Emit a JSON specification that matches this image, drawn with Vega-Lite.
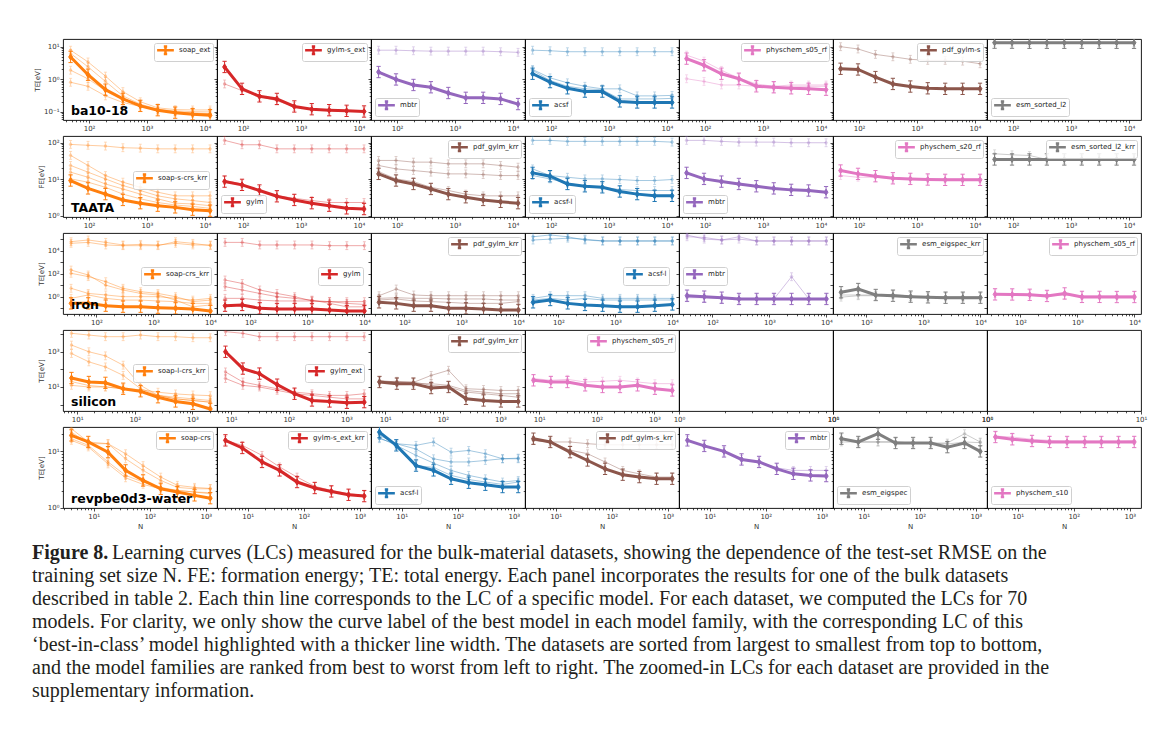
{
"$schema":"https://vega.github.io/schema/vega-lite/v6.json",
"background":"white",
"padding":{"left":32,"top":38,"right":0,"bottom":0},
"datasets":{
"p11":[{"m":"soap_ext","N":48,"v":4.85},{"m":"soap_ext","N":96,"v":1.38},{"m":"soap_ext","N":192,"v":0.48},{"m":"soap_ext","N":384,"v":0.25},{"m":"soap_ext","N":768,"v":0.153},{"m":"soap_ext","N":1536,"v":0.113},{"m":"soap_ext","N":3072,"v":0.095},{"m":"soap_ext","N":6144,"v":0.085},{"m":"soap_ext","N":12288,"v":0.079}],
"p11t":[{"m":"a","N":48,"v":7.8},{"m":"a","N":96,"v":3.4},{"m":"a","N":192,"v":1.25},{"m":"a","N":384,"v":0.42},{"m":"a","N":768,"v":0.205},{"m":"a","N":1536,"v":0.133},{"m":"a","N":3072,"v":0.118},{"m":"a","N":6144,"v":0.115},{"m":"a","N":12288,"v":0.115},
{"m":"b","N":48,"v":6.2},{"m":"b","N":96,"v":2.4},{"m":"b","N":192,"v":0.86},{"m":"b","N":384,"v":0.31},{"m":"b","N":768,"v":0.173},{"m":"b","N":1536,"v":0.121},{"m":"b","N":3072,"v":0.107},{"m":"b","N":6144,"v":0.102},{"m":"b","N":12288,"v":0.1},
{"m":"c","N":48,"v":1.9},{"m":"c","N":96,"v":1.03},{"m":"c","N":192,"v":0.45},{"m":"c","N":384,"v":0.26},{"m":"c","N":768,"v":0.161},{"m":"c","N":1536,"v":0.115},{"m":"c","N":3072,"v":0.1},{"m":"c","N":6144,"v":0.093},{"m":"c","N":12288,"v":0.089},
{"m":"d","N":48,"v":0.81},{"m":"d","N":96,"v":0.61},{"m":"d","N":192,"v":0.31},{"m":"d","N":384,"v":0.195},{"m":"d","N":768,"v":0.147},{"m":"d","N":1536,"v":0.113},{"m":"d","N":3072,"v":0.1},{"m":"d","N":6144,"v":0.091},{"m":"d","N":12288,"v":0.087}],
"p12":[{"m":"gylm-s_ext","N":48,"v":2.39},{"m":"gylm-s_ext","N":96,"v":0.51},{"m":"gylm-s_ext","N":192,"v":0.3},{"m":"gylm-s_ext","N":384,"v":0.25},{"m":"gylm-s_ext","N":768,"v":0.147},{"m":"gylm-s_ext","N":1536,"v":0.121},{"m":"gylm-s_ext","N":3072,"v":0.113},{"m":"gylm-s_ext","N":6144,"v":0.108},{"m":"gylm-s_ext","N":12288,"v":0.103}],
"p12t":[{"m":"a","N":48,"v":0.72},{"m":"a","N":96,"v":0.45},{"m":"a","N":192,"v":0.3},{"m":"a","N":384,"v":0.22},{"m":"a","N":768,"v":0.147},{"m":"a","N":1536,"v":0.121},{"m":"a","N":3072,"v":0.113},{"m":"a","N":6144,"v":0.11},{"m":"a","N":12288,"v":0.105}],
"p13":[{"m":"mbtr","N":48,"v":1.67},{"m":"mbtr","N":96,"v":0.99},{"m":"mbtr","N":192,"v":0.67},{"m":"mbtr","N":384,"v":0.57},{"m":"mbtr","N":768,"v":0.38},{"m":"mbtr","N":1536,"v":0.27},{"m":"mbtr","N":3072,"v":0.27},{"m":"mbtr","N":6144,"v":0.25},{"m":"mbtr","N":12288,"v":0.174}],
"p13t":[{"m":"a","N":48,"v":7.8},{"m":"a","N":96,"v":7.8},{"m":"a","N":192,"v":7.5},{"m":"a","N":384,"v":7.3},{"m":"a","N":768,"v":7.3},{"m":"a","N":1536,"v":7.3},{"m":"a","N":3072,"v":7.3},{"m":"a","N":6144,"v":7.0},{"m":"a","N":12288,"v":6.7}],
"p14":[{"m":"acsf","N":48,"v":1.48},{"m":"acsf","N":96,"v":0.82},{"m":"acsf","N":192,"v":0.53},{"m":"acsf","N":384,"v":0.42},{"m":"acsf","N":768,"v":0.42},{"m":"acsf","N":1536,"v":0.21},{"m":"acsf","N":3072,"v":0.195},{"m":"acsf","N":6144,"v":0.195},{"m":"acsf","N":12288,"v":0.195}],
"p14t":[{"m":"a","N":48,"v":7.8},{"m":"a","N":96,"v":7.5},{"m":"a","N":192,"v":7.0},{"m":"a","N":384,"v":7.0},{"m":"a","N":768,"v":7.0},{"m":"a","N":1536,"v":7.0},{"m":"a","N":3072,"v":7.0},{"m":"a","N":6144,"v":7.0},{"m":"a","N":12288,"v":7.0},
{"m":"b","N":48,"v":2.0},{"m":"b","N":96,"v":1.11},{"m":"b","N":192,"v":0.78},{"m":"b","N":384,"v":0.61},{"m":"b","N":768,"v":0.51},{"m":"b","N":1536,"v":0.51},{"m":"b","N":3072,"v":0.31},{"m":"b","N":6144,"v":0.31},{"m":"b","N":12288,"v":0.32},
{"m":"c","N":48,"v":1.88},{"m":"c","N":96,"v":0.92},{"m":"c","N":192,"v":0.61},{"m":"c","N":384,"v":0.51},{"m":"c","N":768,"v":0.48},{"m":"c","N":1536,"v":0.25},{"m":"c","N":3072,"v":0.25},{"m":"c","N":6144,"v":0.25},{"m":"c","N":12288,"v":0.26}],
"p15":[{"m":"physchem_s05_rf","N":48,"v":4.3},{"m":"physchem_s05_rf","N":96,"v":2.7},{"m":"physchem_s05_rf","N":192,"v":1.48},{"m":"physchem_s05_rf","N":384,"v":1.04},{"m":"physchem_s05_rf","N":768,"v":0.61},{"m":"physchem_s05_rf","N":1536,"v":0.57},{"m":"physchem_s05_rf","N":3072,"v":0.53},{"m":"physchem_s05_rf","N":6144,"v":0.51},{"m":"physchem_s05_rf","N":12288,"v":0.48}],
"p15t":[{"m":"a","N":48,"v":1.04},{"m":"a","N":96,"v":0.86},{"m":"a","N":192,"v":0.67},{"m":"a","N":384,"v":0.67},{"m":"a","N":768,"v":0.61},{"m":"a","N":1536,"v":0.53},{"m":"a","N":3072,"v":0.61},{"m":"a","N":6144,"v":0.61},{"m":"a","N":12288,"v":0.61},
{"m":"b","N":48,"v":5.5},{"m":"b","N":96,"v":3.6},{"m":"b","N":192,"v":1.88},{"m":"b","N":384,"v":1.09},{"m":"b","N":768,"v":0.72},{"m":"b","N":1536,"v":0.61},{"m":"b","N":3072,"v":0.67},{"m":"b","N":6144,"v":0.67},{"m":"b","N":12288,"v":0.67}],
"p16":[{"m":"pdf_gylm-s","N":48,"v":2.1},{"m":"pdf_gylm-s","N":96,"v":2.0},{"m":"pdf_gylm-s","N":192,"v":1.17},{"m":"pdf_gylm-s","N":384,"v":0.72},{"m":"pdf_gylm-s","N":768,"v":0.6},{"m":"pdf_gylm-s","N":1536,"v":0.53},{"m":"pdf_gylm-s","N":3072,"v":0.51},{"m":"pdf_gylm-s","N":6144,"v":0.51},{"m":"pdf_gylm-s","N":12288,"v":0.51}],
"p16t":[{"m":"a","N":48,"v":10},{"m":"a","N":96,"v":8.5},{"m":"a","N":192,"v":5.8},{"m":"a","N":384,"v":4.9},{"m":"a","N":768,"v":4.1},{"m":"a","N":1536,"v":3.8},{"m":"a","N":3072,"v":3.8},{"m":"a","N":6144,"v":3.6},{"m":"a","N":12288,"v":3.0}],
"p17":[{"m":"esm_sorted_l2","N":48,"v":13.3},{"m":"esm_sorted_l2","N":96,"v":13.3},{"m":"esm_sorted_l2","N":192,"v":13.2},{"m":"esm_sorted_l2","N":384,"v":13.2},{"m":"esm_sorted_l2","N":768,"v":13.2},{"m":"esm_sorted_l2","N":1536,"v":13.2},{"m":"esm_sorted_l2","N":3072,"v":13.2},{"m":"esm_sorted_l2","N":6144,"v":13.2},{"m":"esm_sorted_l2","N":12288,"v":13.2}],
"p17t":[{"m":"a","N":48,"v":13.7},{"m":"a","N":96,"v":13.5},{"m":"a","N":192,"v":13.4},{"m":"a","N":384,"v":13.3},{"m":"a","N":768,"v":13.3},{"m":"a","N":1536,"v":13.3},{"m":"a","N":3072,"v":13.3},{"m":"a","N":6144,"v":13.3},{"m":"a","N":12288,"v":13.3}],
"p21":[{"m":"soap-s-crs_krr","N":48,"v":9.2},{"m":"soap-s-crs_krr","N":96,"v":5.6},{"m":"soap-s-crs_krr","N":192,"v":3.9},{"m":"soap-s-crs_krr","N":384,"v":2.7},{"m":"soap-s-crs_krr","N":768,"v":2.2},{"m":"soap-s-crs_krr","N":1536,"v":1.88},{"m":"soap-s-crs_krr","N":3072,"v":1.69},{"m":"soap-s-crs_krr","N":6144,"v":1.46},{"m":"soap-s-crs_krr","N":12288,"v":1.37}],
"p21t":[{"m":"a","N":48,"v":90},{"m":"a","N":96,"v":85},{"m":"a","N":192,"v":81},{"m":"a","N":384,"v":73},{"m":"a","N":768,"v":71},{"m":"a","N":1536,"v":68},{"m":"a","N":3072,"v":68},{"m":"a","N":6144,"v":68},{"m":"a","N":12288,"v":68},
{"m":"b","N":48,"v":45},{"m":"b","N":96,"v":23.8},{"m":"b","N":192,"v":12.6},{"m":"b","N":384,"v":8.3},{"m":"b","N":768,"v":6.0},{"m":"b","N":1536,"v":4.4},{"m":"b","N":3072,"v":3.5},{"m":"b","N":6144,"v":3.5},{"m":"b","N":12288,"v":3.5},
{"m":"c","N":48,"v":23.8},{"m":"c","N":96,"v":15.6},{"m":"c","N":192,"v":10.2},{"m":"c","N":384,"v":6.7},{"m":"c","N":768,"v":4.9},{"m":"c","N":1536,"v":3.5},{"m":"c","N":3072,"v":2.9},{"m":"c","N":6144,"v":2.6},{"m":"c","N":12288,"v":2.3},
{"m":"d","N":48,"v":15.6},{"m":"d","N":96,"v":11.3},{"m":"d","N":192,"v":7.4},{"m":"d","N":384,"v":5.4},{"m":"d","N":768,"v":3.9},{"m":"d","N":1536,"v":2.9},{"m":"d","N":3072,"v":2.2},{"m":"d","N":6144,"v":2.1},{"m":"d","N":12288,"v":1.88},
{"m":"e","N":48,"v":10.2},{"m":"e","N":96,"v":8.3},{"m":"e","N":192,"v":6.0},{"m":"e","N":384,"v":3.9},{"m":"e","N":768,"v":2.9},{"m":"e","N":1536,"v":2.3},{"m":"e","N":3072,"v":1.96},{"m":"e","N":6144,"v":1.8},{"m":"e","N":12288,"v":1.59}],
"p22":[{"m":"gylm","N":48,"v":8.6},{"m":"gylm","N":96,"v":7.0},{"m":"gylm","N":192,"v":4.9},{"m":"gylm","N":384,"v":3.4},{"m":"gylm","N":768,"v":2.7},{"m":"gylm","N":1536,"v":2.2},{"m":"gylm","N":3072,"v":1.88},{"m":"gylm","N":6144,"v":1.59},{"m":"gylm","N":12288,"v":1.52}],
"p22t":[{"m":"a","N":48,"v":116},{"m":"a","N":96,"v":88},{"m":"a","N":192,"v":88},{"m":"a","N":384,"v":68},{"m":"a","N":768,"v":68},{"m":"a","N":1536,"v":68},{"m":"a","N":3072,"v":68},{"m":"a","N":6144,"v":68},{"m":"a","N":12288,"v":68},
{"m":"b","N":48,"v":9.2},{"m":"b","N":96,"v":7.4},{"m":"b","N":192,"v":4.9},{"m":"b","N":384,"v":3.5},{"m":"b","N":768,"v":3.0},{"m":"b","N":1536,"v":2.6},{"m":"b","N":3072,"v":2.3},{"m":"b","N":6144,"v":2.3},{"m":"b","N":12288,"v":2.3}],
"p23":[{"m":"pdf_gylm_krr","N":48,"v":14},{"m":"pdf_gylm_krr","N":96,"v":9.2},{"m":"pdf_gylm_krr","N":192,"v":7.4},{"m":"pdf_gylm_krr","N":384,"v":5.4},{"m":"pdf_gylm_krr","N":768,"v":3.9},{"m":"pdf_gylm_krr","N":1536,"v":3.2},{"m":"pdf_gylm_krr","N":3072,"v":2.7},{"m":"pdf_gylm_krr","N":6144,"v":2.4},{"m":"pdf_gylm_krr","N":12288,"v":2.2}],
"p23t":[{"m":"a","N":48,"v":32.7},{"m":"a","N":96,"v":32.7},{"m":"a","N":192,"v":29.4},{"m":"a","N":384,"v":29.4},{"m":"a","N":768,"v":26.4},{"m":"a","N":1536,"v":26.4},{"m":"a","N":3072,"v":26.4},{"m":"a","N":6144,"v":23.8},{"m":"a","N":12288,"v":21.4},
{"m":"b","N":48,"v":23.8},{"m":"b","N":96,"v":19.2},{"m":"b","N":192,"v":17.3},{"m":"b","N":384,"v":15.6},{"m":"b","N":768,"v":14},{"m":"b","N":1536,"v":14},{"m":"b","N":3072,"v":13.4},{"m":"b","N":6144,"v":12.6},{"m":"b","N":12288,"v":12.6},
{"m":"c","N":48,"v":16.2},{"m":"c","N":96,"v":10.2},{"m":"c","N":192,"v":8.6},{"m":"c","N":384,"v":6.0},{"m":"c","N":768,"v":4.9},{"m":"c","N":1536,"v":3.9},{"m":"c","N":3072,"v":3.5},{"m":"c","N":6144,"v":3.5},{"m":"c","N":12288,"v":3.5}],
"p24":[{"m":"acsf-l","N":48,"v":14.9},{"m":"acsf-l","N":96,"v":12.1},{"m":"acsf-l","N":192,"v":7.4},{"m":"acsf-l","N":384,"v":6.4},{"m":"acsf-l","N":768,"v":6.0},{"m":"acsf-l","N":1536,"v":4.6},{"m":"acsf-l","N":3072,"v":3.9},{"m":"acsf-l","N":6144,"v":3.5},{"m":"acsf-l","N":12288,"v":3.5}],
"p24t":[{"m":"a","N":48,"v":116},{"m":"a","N":96,"v":116},{"m":"a","N":192,"v":109},{"m":"a","N":384,"v":109},{"m":"a","N":768,"v":109},{"m":"a","N":1536,"v":109},{"m":"a","N":3072,"v":109},{"m":"a","N":6144,"v":109},{"m":"a","N":12288,"v":104},
{"m":"b","N":48,"v":19.2},{"m":"b","N":96,"v":12.6},{"m":"b","N":192,"v":11.3},{"m":"b","N":384,"v":10.2},{"m":"b","N":768,"v":10.2},{"m":"b","N":1536,"v":9.8},{"m":"b","N":3072,"v":9.2},{"m":"b","N":6144,"v":9.2},{"m":"b","N":12288,"v":9.8},
{"m":"c","N":48,"v":12.6},{"m":"c","N":96,"v":10.2},{"m":"c","N":192,"v":7.8},{"m":"c","N":384,"v":6.4},{"m":"c","N":768,"v":6.0},{"m":"c","N":1536,"v":5.2},{"m":"c","N":3072,"v":4.9},{"m":"c","N":6144,"v":4.9},{"m":"c","N":12288,"v":4.9}],
"p25":[{"m":"mbtr","N":48,"v":14.9},{"m":"mbtr","N":96,"v":10.2},{"m":"mbtr","N":192,"v":8.6},{"m":"mbtr","N":384,"v":7.4},{"m":"mbtr","N":768,"v":6.4},{"m":"mbtr","N":1536,"v":5.6},{"m":"mbtr","N":3072,"v":5.1},{"m":"mbtr","N":6144,"v":4.9},{"m":"mbtr","N":12288,"v":4.4}],
"p25t":[{"m":"a","N":48,"v":116},{"m":"a","N":96,"v":116},{"m":"a","N":192,"v":109},{"m":"a","N":384,"v":104},{"m":"a","N":768,"v":104},{"m":"a","N":1536,"v":104},{"m":"a","N":3072,"v":100},{"m":"a","N":6144,"v":100},{"m":"a","N":12288,"v":100}],
"p26":[{"m":"physchem_s20_rf","N":48,"v":17.3},{"m":"physchem_s20_rf","N":96,"v":14},{"m":"physchem_s20_rf","N":192,"v":12.1},{"m":"physchem_s20_rf","N":384,"v":10.6},{"m":"physchem_s20_rf","N":768,"v":10.2},{"m":"physchem_s20_rf","N":1536,"v":9.8},{"m":"physchem_s20_rf","N":3072,"v":9.6},{"m":"physchem_s20_rf","N":6144,"v":9.6},{"m":"physchem_s20_rf","N":12288,"v":9.6}],
"p26t":[{"m":"a","N":48,"v":12.6},{"m":"a","N":96,"v":11.3},{"m":"a","N":192,"v":11.3},{"m":"a","N":384,"v":10.6},{"m":"a","N":768,"v":10.2},{"m":"a","N":1536,"v":10.2},{"m":"a","N":3072,"v":10.2},{"m":"a","N":6144,"v":10.2},{"m":"a","N":12288,"v":10.2}],
"p27":[{"m":"esm_sorted_l2_krr","N":48,"v":34.8},{"m":"esm_sorted_l2_krr","N":96,"v":34.8},{"m":"esm_sorted_l2_krr","N":192,"v":34.8},{"m":"esm_sorted_l2_krr","N":384,"v":34.8},{"m":"esm_sorted_l2_krr","N":768,"v":34.8},{"m":"esm_sorted_l2_krr","N":1536,"v":34.8},{"m":"esm_sorted_l2_krr","N":3072,"v":34.8},{"m":"esm_sorted_l2_krr","N":6144,"v":34.8},{"m":"esm_sorted_l2_krr","N":12288,"v":34.8}],
"p27t":[{"m":"a","N":48,"v":49.8},{"m":"a","N":96,"v":46.7},{"m":"a","N":192,"v":44.7},{"m":"a","N":384,"v":34.8},{"m":"a","N":768,"v":34.8},{"m":"a","N":1536,"v":34.8},{"m":"a","N":3072,"v":34.8},{"m":"a","N":6144,"v":34.8},{"m":"a","N":12288,"v":34.8}],
"p31":[{"m":"soap-crs_krr","N":36,"v":0.26},{"m":"soap-crs_krr","N":72,"v":0.26},{"m":"soap-crs_krr","N":146,"v":0.164},{"m":"soap-crs_krr","N":293,"v":0.134},{"m":"soap-crs_krr","N":598,"v":0.134},{"m":"soap-crs_krr","N":1204,"v":0.11},{"m":"soap-crs_krr","N":2450,"v":0.096},{"m":"soap-crs_krr","N":4920,"v":0.084},{"m":"soap-crs_krr","N":10000,"v":0.056}],
"p31t":[{"m":"a","N":36,"v":60000},{"m":"a","N":72,"v":84000},{"m":"a","N":146,"v":52000},{"m":"a","N":293,"v":31000},{"m":"a","N":598,"v":35000},{"m":"a","N":1204,"v":31000},{"m":"a","N":2450,"v":43000},{"m":"a","N":4920,"v":31000},{"m":"a","N":10000,"v":31000},
{"m":"b","N":36,"v":43000},{"m":"b","N":72,"v":52000},{"m":"b","N":146,"v":31000},{"m":"b","N":293,"v":27000},{"m":"b","N":598,"v":27000},{"m":"b","N":1204,"v":27000},{"m":"b","N":2450,"v":60000},{"m":"b","N":4920,"v":43000},{"m":"b","N":10000,"v":27000},
{"m":"c","N":36,"v":205},{"m":"c","N":72,"v":76},{"m":"c","N":146,"v":10},{"m":"c","N":293,"v":3.8},{"m":"c","N":598,"v":1.9},{"m":"c","N":1204,"v":1.4},{"m":"c","N":2450,"v":0.5},{"m":"c","N":4920,"v":0.13},{"m":"c","N":10000,"v":0.19},
{"m":"d","N":36,"v":107},{"m":"d","N":72,"v":55},{"m":"d","N":146,"v":20},{"m":"d","N":293,"v":5.3},{"m":"d","N":598,"v":2.7},{"m":"d","N":1204,"v":1.9},{"m":"d","N":2450,"v":1.0},{"m":"d","N":4920,"v":0.37},{"m":"d","N":10000,"v":0.5},
{"m":"e","N":36,"v":5.3},{"m":"e","N":72,"v":1.9},{"m":"e","N":146,"v":1.4},{"m":"e","N":293,"v":1.0},{"m":"e","N":598,"v":1.0},{"m":"e","N":1204,"v":1.0},{"m":"e","N":2450,"v":0.71},{"m":"e","N":4920,"v":0.5},{"m":"e","N":10000,"v":0.71},
{"m":"f","N":36,"v":0.71},{"m":"f","N":72,"v":1.4},{"m":"f","N":146,"v":0.71},{"m":"f","N":293,"v":0.5},{"m":"f","N":598,"v":0.5},{"m":"f","N":1204,"v":0.42},{"m":"f","N":2450,"v":0.37},{"m":"f","N":4920,"v":0.26},{"m":"f","N":10000,"v":0.26}],
"p32":[{"m":"gylm","N":36,"v":0.164},{"m":"gylm","N":72,"v":0.19},{"m":"gylm","N":146,"v":0.096},{"m":"gylm","N":293,"v":0.084},{"m":"gylm","N":598,"v":0.084},{"m":"gylm","N":1204,"v":0.084},{"m":"gylm","N":2450,"v":0.069},{"m":"gylm","N":4920,"v":0.056},{"m":"gylm","N":10000,"v":0.056}],
"p32t":[{"m":"a","N":36,"v":52000},{"m":"a","N":72,"v":52000},{"m":"a","N":146,"v":31000},{"m":"a","N":293,"v":31000},{"m":"a","N":598,"v":31000},{"m":"a","N":1204,"v":31000},{"m":"a","N":2450,"v":27000},{"m":"a","N":4920,"v":27000},{"m":"a","N":10000,"v":27000},
{"m":"b","N":36,"v":28},{"m":"b","N":72,"v":14},{"m":"b","N":146,"v":3.8},{"m":"b","N":293,"v":1.9},{"m":"b","N":598,"v":1.0},{"m":"b","N":1204,"v":0.42},{"m":"b","N":2450,"v":0.37},{"m":"b","N":4920,"v":0.26},{"m":"b","N":10000,"v":0.21},
{"m":"c","N":36,"v":7.4},{"m":"c","N":72,"v":3.8},{"m":"c","N":146,"v":1.9},{"m":"c","N":293,"v":1.0},{"m":"c","N":598,"v":0.71},{"m":"c","N":1204,"v":0.5},{"m":"c","N":2450,"v":0.26},{"m":"c","N":4920,"v":0.13},{"m":"c","N":10000,"v":0.13},
{"m":"d","N":36,"v":0.71},{"m":"d","N":72,"v":0.71},{"m":"d","N":146,"v":0.5},{"m":"d","N":293,"v":0.42},{"m":"d","N":598,"v":0.42},{"m":"d","N":1204,"v":0.42},{"m":"d","N":2450,"v":0.37},{"m":"d","N":4920,"v":0.37},{"m":"d","N":10000,"v":0.37}],
"p33":[{"m":"pdf_gylm_krr","N":36,"v":0.32},{"m":"pdf_gylm_krr","N":72,"v":0.26},{"m":"pdf_gylm_krr","N":146,"v":0.164},{"m":"pdf_gylm_krr","N":293,"v":0.164},{"m":"pdf_gylm_krr","N":598,"v":0.096},{"m":"pdf_gylm_krr","N":1204,"v":0.096},{"m":"pdf_gylm_krr","N":2450,"v":0.084},{"m":"pdf_gylm_krr","N":4920,"v":0.069},{"m":"pdf_gylm_krr","N":10000,"v":0.069}],
"p33t":[{"m":"a","N":36,"v":1.21},{"m":"a","N":72,"v":4.6},{"m":"a","N":146,"v":1.39},{"m":"a","N":293,"v":1.21},{"m":"a","N":598,"v":1.21},{"m":"a","N":1204,"v":1.21},{"m":"a","N":2450,"v":1.21},{"m":"a","N":4920,"v":1.21},{"m":"a","N":10000,"v":1.21},
{"m":"b","N":36,"v":0.71},{"m":"b","N":72,"v":0.81},{"m":"b","N":146,"v":0.71},{"m":"b","N":293,"v":0.71},{"m":"b","N":598,"v":0.63},{"m":"b","N":1204,"v":0.63},{"m":"b","N":2450,"v":0.63},{"m":"b","N":4920,"v":0.51},{"m":"b","N":10000,"v":0.51},
{"m":"c","N":36,"v":0.51},{"m":"c","N":72,"v":0.63},{"m":"c","N":146,"v":0.42},{"m":"c","N":293,"v":0.37},{"m":"c","N":598,"v":0.32},{"m":"c","N":1204,"v":0.26},{"m":"c","N":2450,"v":0.26},{"m":"c","N":4920,"v":0.26},{"m":"c","N":10000,"v":0.37}],
"p34":[{"m":"acsf-l","N":36,"v":0.32},{"m":"acsf-l","N":72,"v":0.51},{"m":"acsf-l","N":146,"v":0.26},{"m":"acsf-l","N":293,"v":0.19},{"m":"acsf-l","N":598,"v":0.164},{"m":"acsf-l","N":1204,"v":0.134},{"m":"acsf-l","N":2450,"v":0.134},{"m":"acsf-l","N":4920,"v":0.164},{"m":"acsf-l","N":10000,"v":0.21}],
"p34t":[{"m":"a","N":36,"v":160000},{"m":"a","N":72,"v":230000},{"m":"a","N":146,"v":160000},{"m":"a","N":293,"v":83000},{"m":"a","N":598,"v":69000},{"m":"a","N":1204,"v":69000},{"m":"a","N":2450,"v":69000},{"m":"a","N":4920,"v":69000},{"m":"a","N":10000,"v":69000},
{"m":"b","N":36,"v":83000},{"m":"b","N":72,"v":100000},{"m":"b","N":146,"v":120000},{"m":"b","N":293,"v":100000},{"m":"b","N":598,"v":69000},{"m":"b","N":1204,"v":69000},{"m":"b","N":2450,"v":69000},{"m":"b","N":4920,"v":69000},{"m":"b","N":10000,"v":69000},
{"m":"c","N":36,"v":0.71},{"m":"c","N":72,"v":1.21},{"m":"c","N":146,"v":1.21},{"m":"c","N":293,"v":1.21},{"m":"c","N":598,"v":0.71},{"m":"c","N":1204,"v":0.71},{"m":"c","N":2450,"v":0.71},{"m":"c","N":4920,"v":0.71},{"m":"c","N":10000,"v":0.71},
{"m":"d","N":36,"v":0.51},{"m":"d","N":72,"v":0.71},{"m":"d","N":146,"v":0.51},{"m":"d","N":293,"v":0.71},{"m":"d","N":598,"v":0.51},{"m":"d","N":1204,"v":0.51},{"m":"d","N":2450,"v":0.51},{"m":"d","N":4920,"v":0.51},{"m":"d","N":10000,"v":0.51}],
"p35":[{"m":"mbtr","N":36,"v":1.21},{"m":"mbtr","N":72,"v":1.0},{"m":"mbtr","N":146,"v":0.81},{"m":"mbtr","N":293,"v":0.63},{"m":"mbtr","N":598,"v":0.63},{"m":"mbtr","N":1204,"v":0.63},{"m":"mbtr","N":2450,"v":0.63},{"m":"mbtr","N":4920,"v":0.63},{"m":"mbtr","N":10000,"v":0.63}],
"p35t":[{"m":"a","N":36,"v":230000},{"m":"a","N":72,"v":100000},{"m":"a","N":146,"v":83000},{"m":"a","N":293,"v":100000},{"m":"a","N":598,"v":69000},{"m":"a","N":1204,"v":69000},{"m":"a","N":2450,"v":69000},{"m":"a","N":4920,"v":69000},{"m":"a","N":10000,"v":69000},
{"m":"b","N":36,"v":160000},{"m":"b","N":72,"v":140000},{"m":"b","N":146,"v":83000},{"m":"b","N":293,"v":160000},{"m":"b","N":598,"v":69000},{"m":"b","N":1204,"v":69000},{"m":"b","N":2450,"v":69000},{"m":"b","N":4920,"v":69000},{"m":"b","N":10000,"v":69000},
{"m":"c","N":36,"v":0.81},{"m":"c","N":72,"v":0.81},{"m":"c","N":146,"v":0.71},{"m":"c","N":293,"v":0.63},{"m":"c","N":598,"v":0.63},{"m":"c","N":1204,"v":0.63},{"m":"c","N":2450,"v":54},{"m":"c","N":4920,"v":0.63},{"m":"c","N":10000,"v":0.63}],
"p36":[{"m":"esm_eigspec_krr","N":36,"v":2.4},{"m":"esm_eigspec_krr","N":72,"v":4.6},{"m":"esm_eigspec_krr","N":146,"v":1.39},{"m":"esm_eigspec_krr","N":293,"v":1.21},{"m":"esm_eigspec_krr","N":598,"v":1.0},{"m":"esm_eigspec_krr","N":1204,"v":0.87},{"m":"esm_eigspec_krr","N":2450,"v":0.81},{"m":"esm_eigspec_krr","N":4920,"v":0.81},{"m":"esm_eigspec_krr","N":10000,"v":0.81}],
"p36t":[{"m":"a","N":36,"v":1.39},{"m":"a","N":72,"v":1.39},{"m":"a","N":146,"v":1.39},{"m":"a","N":293,"v":1.39},{"m":"a","N":598,"v":1.0},{"m":"a","N":1204,"v":1.0},{"m":"a","N":2450,"v":1.0},{"m":"a","N":4920,"v":1.0},{"m":"a","N":10000,"v":1.0},
{"m":"b","N":36,"v":0.9},{"m":"b","N":72,"v":1.2},{"m":"b","N":146,"v":1.2},{"m":"b","N":293,"v":1.6},{"m":"b","N":598,"v":1.1},{"m":"b","N":1204,"v":0.9},{"m":"b","N":2450,"v":0.9},{"m":"b","N":4920,"v":0.9},{"m":"b","N":10000,"v":0.9}],
"p37":[{"m":"physchem_s05_rf","N":36,"v":1.58},{"m":"physchem_s05_rf","N":72,"v":1.55},{"m":"physchem_s05_rf","N":146,"v":1.45},{"m":"physchem_s05_rf","N":293,"v":1.15},{"m":"physchem_s05_rf","N":598,"v":1.9},{"m":"physchem_s05_rf","N":1204,"v":0.95},{"m":"physchem_s05_rf","N":2450,"v":0.95},{"m":"physchem_s05_rf","N":4920,"v":0.93},{"m":"physchem_s05_rf","N":10000,"v":0.93}],
"p37t":[{"m":"a","N":36,"v":1.8},{"m":"a","N":72,"v":1.7},{"m":"a","N":146,"v":1.6},{"m":"a","N":293,"v":1.4},{"m":"a","N":598,"v":1.3},{"m":"a","N":1204,"v":1.2},{"m":"a","N":2450,"v":1.2},{"m":"a","N":4920,"v":1.2},{"m":"a","N":10000,"v":1.2}],
"p41":[{"m":"soap-l-crs_krr","N":8,"v":32},{"m":"soap-l-crs_krr","N":16,"v":19},{"m":"soap-l-crs_krr","N":31,"v":17},{"m":"soap-l-crs_krr","N":63,"v":7.9},{"m":"soap-l-crs_krr","N":126,"v":5.7},{"m":"soap-l-crs_krr","N":253,"v":2.6},{"m":"soap-l-crs_krr","N":510,"v":1.5},{"m":"soap-l-crs_krr","N":1020,"v":1.1},{"m":"soap-l-crs_krr","N":2040,"v":0.56}],
"p41t":[{"m":"a","N":8,"v":11000},{"m":"a","N":16,"v":8800},{"m":"a","N":31,"v":7100},{"m":"a","N":63,"v":7100},{"m":"a","N":126,"v":8800},{"m":"a","N":253,"v":7100},{"m":"a","N":510,"v":7100},{"m":"a","N":1020,"v":6200},{"m":"a","N":2040,"v":6200},
{"m":"b","N":8,"v":2370},{"m":"b","N":16,"v":990},{"m":"b","N":31,"v":580},{"m":"b","N":63,"v":171},{"m":"b","N":126,"v":12.3},{"m":"b","N":253,"v":3.3},{"m":"b","N":510,"v":2.1},{"m":"b","N":1020,"v":1.7},{"m":"b","N":2040,"v":1.36},
{"m":"c","N":8,"v":790},{"m":"c","N":16,"v":265},{"m":"c","N":31,"v":137},{"m":"c","N":63,"v":45},{"m":"c","N":126,"v":7.9},{"m":"c","N":253,"v":3.3},{"m":"c","N":510,"v":2.1},{"m":"c","N":1020,"v":1.7},{"m":"c","N":2040,"v":1.36},
{"m":"d","N":8,"v":12.3},{"m":"d","N":16,"v":9.9},{"m":"d","N":31,"v":9.9},{"m":"d","N":63,"v":7.9},{"m":"d","N":126,"v":5.6},{"m":"d","N":253,"v":3.3},{"m":"d","N":510,"v":2.6},{"m":"d","N":1020,"v":2.1},{"m":"d","N":2040,"v":1.7},
{"m":"e","N":8,"v":20},{"m":"e","N":16,"v":12},{"m":"e","N":31,"v":10},{"m":"e","N":63,"v":8},{"m":"e","N":126,"v":7},{"m":"e","N":253,"v":5},{"m":"e","N":510,"v":4},{"m":"e","N":1020,"v":3.5},{"m":"e","N":2040,"v":3.2}],
"p42":[{"m":"gylm_ext","N":8,"v":990},{"m":"gylm_ext","N":16,"v":110},{"m":"gylm_ext","N":31,"v":57},{"m":"gylm_ext","N":63,"v":13.4},{"m":"gylm_ext","N":126,"v":4.1},{"m":"gylm_ext","N":253,"v":1.7},{"m":"gylm_ext","N":510,"v":1.5},{"m":"gylm_ext","N":1020,"v":1.26},{"m":"gylm_ext","N":2040,"v":1.37}],
"p42t":[{"m":"a","N":8,"v":13700},{"m":"a","N":16,"v":11000},{"m":"a","N":31,"v":7100},{"m":"a","N":63,"v":7100},{"m":"a","N":126,"v":7100},{"m":"a","N":253,"v":7100},{"m":"a","N":510,"v":7100},{"m":"a","N":1020,"v":7100},{"m":"a","N":2040,"v":7100},
{"m":"b","N":8,"v":71},{"m":"b","N":16,"v":19},{"m":"b","N":31,"v":12.3},{"m":"b","N":63,"v":7.9},{"m":"b","N":126,"v":5.1},{"m":"b","N":253,"v":4.1},{"m":"b","N":510,"v":3.3},{"m":"b","N":1020,"v":3.3},{"m":"b","N":2040,"v":4.1},
{"m":"c","N":8,"v":30},{"m":"c","N":16,"v":12.3},{"m":"c","N":31,"v":9.9},{"m":"c","N":63,"v":6.4},{"m":"c","N":126,"v":4.1},{"m":"c","N":253,"v":3.3},{"m":"c","N":510,"v":2.6},{"m":"c","N":1020,"v":2.1},{"m":"c","N":2040,"v":2.1}],
"p43":[{"m":"pdf_gylm_krr","N":8,"v":19},{"m":"pdf_gylm_krr","N":16,"v":15.3},{"m":"pdf_gylm_krr","N":31,"v":15.3},{"m":"pdf_gylm_krr","N":63,"v":8.6},{"m":"pdf_gylm_krr","N":126,"v":9.9},{"m":"pdf_gylm_krr","N":253,"v":2.1},{"m":"pdf_gylm_krr","N":510,"v":1.7},{"m":"pdf_gylm_krr","N":1020,"v":1.5},{"m":"pdf_gylm_krr","N":2040,"v":1.5}],
"p43t":[{"m":"a","N":8,"v":19},{"m":"a","N":16,"v":21},{"m":"a","N":31,"v":18},{"m":"a","N":63,"v":45},{"m":"a","N":126,"v":88},{"m":"a","N":253,"v":7.9},{"m":"a","N":510,"v":7.2},{"m":"a","N":1020,"v":6.3},{"m":"a","N":2040,"v":6.3},
{"m":"b","N":8,"v":21},{"m":"b","N":16,"v":19},{"m":"b","N":31,"v":15.3},{"m":"b","N":63,"v":15.3},{"m":"b","N":126,"v":12.3},{"m":"b","N":253,"v":6.3},{"m":"b","N":510,"v":5.1},{"m":"b","N":1020,"v":4.1},{"m":"b","N":2040,"v":4.1},
{"m":"c","N":8,"v":23},{"m":"c","N":16,"v":19},{"m":"c","N":31,"v":19},{"m":"c","N":63,"v":12.3},{"m":"c","N":126,"v":9.9},{"m":"c","N":253,"v":5.1},{"m":"c","N":510,"v":4.1},{"m":"c","N":1020,"v":3.3},{"m":"c","N":2040,"v":2.6}],
"p44":[{"m":"physchem_s05_rf","N":8,"v":23.7},{"m":"physchem_s05_rf","N":16,"v":19},{"m":"physchem_s05_rf","N":31,"v":19},{"m":"physchem_s05_rf","N":63,"v":12.3},{"m":"physchem_s05_rf","N":126,"v":9.9},{"m":"physchem_s05_rf","N":253,"v":9.9},{"m":"physchem_s05_rf","N":510,"v":12.3},{"m":"physchem_s05_rf","N":1020,"v":7.9},{"m":"physchem_s05_rf","N":2040,"v":6.3}],
"p44t":[{"m":"a","N":8,"v":30},{"m":"a","N":16,"v":23.7},{"m":"a","N":31,"v":27},{"m":"a","N":63,"v":19},{"m":"a","N":126,"v":21},{"m":"a","N":253,"v":23.7},{"m":"a","N":510,"v":19},{"m":"a","N":1020,"v":15.3},{"m":"a","N":2040,"v":15.3}],
"p51":[{"m":"soap-crs","N":4,"v":19.2},{"m":"soap-crs","N":8,"v":14.7},{"m":"soap-crs","N":18,"v":9.7},{"m":"soap-crs","N":37,"v":4.6},{"m":"soap-crs","N":76,"v":3.05},{"m":"soap-crs","N":157,"v":2.17},{"m":"soap-crs","N":311,"v":1.9},{"m":"soap-crs","N":630,"v":1.66},{"m":"soap-crs","N":1200,"v":1.48}],
"p51t":[{"m":"a","N":4,"v":22},{"m":"a","N":8,"v":13.7},{"m":"a","N":18,"v":13.7},{"m":"a","N":37,"v":7.4},{"m":"a","N":76,"v":4.6},{"m":"a","N":157,"v":3.05},{"m":"a","N":311,"v":2.3},{"m":"a","N":630,"v":2.17},{"m":"a","N":1200,"v":2.17},
{"m":"b","N":4,"v":16.8},{"m":"b","N":8,"v":12.8},{"m":"b","N":18,"v":6.5},{"m":"b","N":37,"v":3.75},{"m":"b","N":76,"v":2.86},{"m":"b","N":157,"v":2.3},{"m":"b","N":311,"v":2.03},{"m":"b","N":630,"v":1.9},{"m":"b","N":1200,"v":1.77},
{"m":"c","N":4,"v":25.3},{"m":"c","N":8,"v":14.7},{"m":"c","N":18,"v":13.7},{"m":"c","N":37,"v":9.1},{"m":"c","N":76,"v":5.6},{"m":"c","N":157,"v":3.5},{"m":"c","N":311,"v":2.5},{"m":"c","N":630,"v":2.3},{"m":"c","N":1200,"v":2.2},
{"m":"d","N":4,"v":15.7},{"m":"d","N":8,"v":12},{"m":"d","N":18,"v":6},{"m":"d","N":37,"v":3.4},{"m":"d","N":76,"v":2.6},{"m":"d","N":157,"v":2.17},{"m":"d","N":311,"v":2.03},{"m":"d","N":630,"v":1.9},{"m":"d","N":1200,"v":1.85}],
"p52":[{"m":"gylm-s_ext_krr","N":4,"v":15.7},{"m":"gylm-s_ext_krr","N":8,"v":11.5},{"m":"gylm-s_ext_krr","N":18,"v":6.5},{"m":"gylm-s_ext_krr","N":37,"v":4.6},{"m":"gylm-s_ext_krr","N":76,"v":2.86},{"m":"gylm-s_ext_krr","N":157,"v":2.24},{"m":"gylm-s_ext_krr","N":311,"v":1.95},{"m":"gylm-s_ext_krr","N":630,"v":1.7},{"m":"gylm-s_ext_krr","N":1200,"v":1.61}],
"p52t":[{"m":"a","N":4,"v":15.7},{"m":"a","N":8,"v":12.8},{"m":"a","N":18,"v":8.5},{"m":"a","N":37,"v":5.3},{"m":"a","N":76,"v":3.5},{"m":"a","N":157,"v":2.4},{"m":"a","N":311,"v":2.03},{"m":"a","N":630,"v":1.77},{"m":"a","N":1200,"v":1.66}],
"p53":[{"m":"acsf-l","N":4,"v":22},{"m":"acsf-l","N":8,"v":12.8},{"m":"acsf-l","N":18,"v":5.6},{"m":"acsf-l","N":37,"v":4.6},{"m":"acsf-l","N":76,"v":3.27},{"m":"acsf-l","N":157,"v":2.78},{"m":"acsf-l","N":311,"v":2.56},{"m":"acsf-l","N":630,"v":2.33},{"m":"acsf-l","N":1200,"v":2.33}],
"p53t":[{"m":"a","N":4,"v":19.2},{"m":"a","N":8,"v":13.7},{"m":"a","N":18,"v":12.8},{"m":"a","N":37,"v":14.7},{"m":"a","N":76,"v":9.7},{"m":"a","N":157,"v":10.4},{"m":"a","N":311,"v":9.1},{"m":"a","N":630,"v":7.4},{"m":"a","N":1200,"v":7.6},
{"m":"b","N":4,"v":16.8},{"m":"b","N":8,"v":13.7},{"m":"b","N":18,"v":11},{"m":"b","N":37,"v":7.4},{"m":"b","N":76,"v":6.5},{"m":"b","N":157,"v":6.5},{"m":"b","N":311,"v":6.9},{"m":"b","N":630,"v":7.4},{"m":"b","N":1200,"v":7.4},
{"m":"c","N":4,"v":20.6},{"m":"c","N":8,"v":12.8},{"m":"c","N":18,"v":8.5},{"m":"c","N":37,"v":6.2},{"m":"c","N":76,"v":4.6},{"m":"c","N":157,"v":3.75},{"m":"c","N":311,"v":3.27},{"m":"c","N":630,"v":2.86},{"m":"c","N":1200,"v":3.05},
{"m":"d","N":4,"v":17.5},{"m":"d","N":8,"v":12.8},{"m":"d","N":18,"v":5.6},{"m":"d","N":37,"v":5.2},{"m":"d","N":76,"v":3.75},{"m":"d","N":157,"v":3.17},{"m":"d","N":311,"v":2.86},{"m":"d","N":630,"v":2.6},{"m":"d","N":1200,"v":2.86}],
"p54":[{"m":"pdf_gylm-s_krr","N":4,"v":16.8},{"m":"pdf_gylm-s_krr","N":8,"v":14.7},{"m":"pdf_gylm-s_krr","N":18,"v":9.7},{"m":"pdf_gylm-s_krr","N":37,"v":6.9},{"m":"pdf_gylm-s_krr","N":76,"v":4.9},{"m":"pdf_gylm-s_krr","N":157,"v":3.86},{"m":"pdf_gylm-s_krr","N":311,"v":3.5},{"m":"pdf_gylm-s_krr","N":630,"v":3.27},{"m":"pdf_gylm-s_krr","N":1200,"v":3.27}],
"p54t":[{"m":"a","N":4,"v":15.7},{"m":"a","N":8,"v":14.7},{"m":"a","N":18,"v":14.7},{"m":"a","N":37,"v":13.7},{"m":"a","N":76,"v":13.1},{"m":"a","N":157,"v":13.1},{"m":"a","N":311,"v":13.1},{"m":"a","N":630,"v":13.1},{"m":"a","N":1200,"v":13.1},
{"m":"b","N":4,"v":15.7},{"m":"b","N":8,"v":14.7},{"m":"b","N":18,"v":10.5},{"m":"b","N":37,"v":9.1},{"m":"b","N":76,"v":6.5},{"m":"b","N":157,"v":4.6},{"m":"b","N":311,"v":4.0},{"m":"b","N":630,"v":3.5},{"m":"b","N":1200,"v":3.5}],
"p55":[{"m":"mbtr","N":4,"v":15.7},{"m":"mbtr","N":8,"v":12.5},{"m":"mbtr","N":18,"v":10},{"m":"mbtr","N":37,"v":7.2},{"m":"mbtr","N":76,"v":6.5},{"m":"mbtr","N":157,"v":4.9},{"m":"mbtr","N":311,"v":4.0},{"m":"mbtr","N":630,"v":3.75},{"m":"mbtr","N":1200,"v":3.65}],
"p55t":[{"m":"a","N":4,"v":15.7},{"m":"a","N":8,"v":12.5},{"m":"a","N":18,"v":10},{"m":"a","N":37,"v":7.2},{"m":"a","N":76,"v":6.5},{"m":"a","N":157,"v":5.1},{"m":"a","N":311,"v":4.6},{"m":"a","N":630,"v":4.6},{"m":"a","N":1200,"v":4.6}],
"p56":[{"m":"esm_eigspec","N":4,"v":16.8},{"m":"esm_eigspec","N":8,"v":14.7},{"m":"esm_eigspec","N":18,"v":20.6},{"m":"esm_eigspec","N":37,"v":14.1},{"m":"esm_eigspec","N":76,"v":14.1},{"m":"esm_eigspec","N":157,"v":14.1},{"m":"esm_eigspec","N":311,"v":11.9},{"m":"esm_eigspec","N":630,"v":14.1},{"m":"esm_eigspec","N":1200,"v":10}],
"p56t":[{"m":"a","N":4,"v":14.7},{"m":"a","N":8,"v":14.7},{"m":"a","N":18,"v":14.7},{"m":"a","N":37,"v":14.7},{"m":"a","N":76,"v":14.1},{"m":"a","N":157,"v":14.1},{"m":"a","N":311,"v":13.5},{"m":"a","N":630,"v":14.7},{"m":"a","N":1200,"v":14.3},
{"m":"b","N":4,"v":16.8},{"m":"b","N":8,"v":14.7},{"m":"b","N":18,"v":14.7},{"m":"b","N":37,"v":14.7},{"m":"b","N":76,"v":14.1},{"m":"b","N":157,"v":14.1},{"m":"b","N":311,"v":14.1},{"m":"b","N":630,"v":20.6},{"m":"b","N":1200,"v":14.7}],
"p57":[{"m":"physchem_s10","N":4,"v":18},{"m":"physchem_s10","N":8,"v":16.4},{"m":"physchem_s10","N":18,"v":15.3},{"m":"physchem_s10","N":37,"v":14.7},{"m":"physchem_s10","N":76,"v":14.7},{"m":"physchem_s10","N":157,"v":14.7},{"m":"physchem_s10","N":311,"v":14.7},{"m":"physchem_s10","N":630,"v":14.7},{"m":"physchem_s10","N":1200,"v":14.7}],
"p57t":[{"m":"a","N":4,"v":18.7},{"m":"a","N":8,"v":18},{"m":"a","N":18,"v":16.4},{"m":"a","N":37,"v":15.7},{"m":"a","N":76,"v":15.3},{"m":"a","N":157,"v":15.3},{"m":"a","N":311,"v":15.3},{"m":"a","N":630,"v":15.3},{"m":"a","N":1200,"v":15.7}]
},
"title":{"text":"Figure 8.","subtitle":["\u200B\u2003\u2003\u2003\u2003Learning curves (LCs) measured for the bulk-material datasets, showing the dependence of the test-set RMSE on the","training set size N. FE: formation energy; TE: total energy. Each panel incorporates the results for one of the bulk datasets","described in table 2. Each thin line corresponds to the LC of a specific model. For each dataset, we computed the LCs for 70","models. For clarity, we only show the curve label of the best model in each model family, with the corresponding LC of this","\u2018best-in-class\u2019 model highlighted with a thicker line width. The datasets are sorted from largest to smallest from top to bottom,","and the model families are ranked from best to worst from left to right. The zoomed-in LCs for each dataset are provided in the","supplementary information."],"orient":"bottom","anchor":"start","frame":"group","dx":-31,"offset":14,"font":"Liberation Serif","fontSize":20,"fontWeight":"bold","color":"#231f20","subtitleFont":"Liberation Serif","subtitleFontSize":20,"subtitleColor":"#231f20","subtitleLineHeight":23,"subtitlePadding":-20},
"columns":7,
"spacing":{"row":16,"column":0},
"bounds":"flush",
"resolve":{"scale":{"color":"independent","x":"independent","y":"independent"},"legend":{"color":"independent"}},
"concat":[
{"width":154,"height":81,
"layer":[
{"data":{"name":"p11t"},"mark":{"type":"line","color":"#ff7f0e","strokeWidth":1,"opacity":0.4,"clip":true,"point":{"shape":"M0,-1.6L0,1.6M-0.6,-1.6L0.6,-1.6M-0.6,1.6L0.6,1.6M0,-0.85L0.55,0L0,0.85L-0.55,0Z","size":24,"filled":true,"color":"#ff7f0e","stroke":"#ff7f0e","strokeWidth":0.7,"opacity":0.4}},"encoding":{"x":{"field":"N","type":"quantitative","scale":{"type":"log","domain":[35.5,16200],"nice":false},"axis":{"title":null,"values":[40,50,60,70,80,90,100,200,300,400,500,600,700,800,900,1000,2000,3000,4000,5000,6000,7000,8000,9000,10000],"labelExpr":"abs(log(datum.value)/LN10-round(log(datum.value)/LN10))<0.01?'10'+(datum.value<0.5?'⁻':'')+['⁰','¹','²','³','⁴','⁵','⁶'][abs(round(log(datum.value)/LN10))]:''","tickSize":{"condition":{"test":"abs(log(datum.value)/LN10-round(log(datum.value)/LN10))<0.01","value":3},"value":1.8}}},"y":{"field":"v","type":"quantitative","scale":{"type":"log","domain":[0.0565,17.2],"nice":false},"axis":{"title":"TE[eV]","values":[0.06,0.07,0.08,0.09,0.1,0.2,0.3,0.4,0.5,0.6,0.7,0.8,0.9,1,2,3,4,5,6,7,8,9,10],"labelExpr":"abs(log(datum.value)/LN10-round(log(datum.value)/LN10))<0.01?'10'+(datum.value<0.5?'⁻':'')+['⁰','¹','²','³','⁴','⁵','⁶'][abs(round(log(datum.value)/LN10))]:''","tickSize":{"condition":{"test":"abs(log(datum.value)/LN10-round(log(datum.value)/LN10))<0.01","value":3},"value":1.8}}},"detail":{"field":"m"}}},
{"data":{"name":"p11"},"mark":{"type":"line","strokeWidth":3,"clip":true,"point":{"shape":"M0,-1.6L0,1.6M-0.6,-1.6L0.6,-1.6M-0.6,1.6L0.6,1.6M0,-0.85L0.55,0L0,0.85L-0.55,0Z","size":50,"filled":true,"stroke":"#ff7f0e","strokeWidth":1}},"encoding":{"x":{"field":"N","type":"quantitative"},"y":{"field":"v","type":"quantitative"},"color":{"field":"m","type":"nominal","scale":{"range":["#ff7f0e"]},"legend":{"title":null,"orient":"top-right","symbolType":"M-1,0L3,0M1,-0.9L1,0.9M0.6,-0.9L1.4,-0.9M0.6,0.9L1.4,0.9"}}}},
{"data":{"values":[{"t":"ba10-18"}]},"mark":{"type":"text","font":"DejaVu Sans","fontWeight":"bold","fontSize":12.5,"align":"left","baseline":"alphabetic","color":"#000"},"encoding":{"x":{"datum":48.7},"y":{"datum":0.0804},"text":{"field":"t"}}}
]},
{"width":154,"height":81,"encoding":{"x":{"field":"N","type":"quantitative","scale":{"type":"log","domain":[35.5,16200],"nice":false},"axis":{"title":null,"values":[40,50,60,70,80,90,100,200,300,400,500,600,700,800,900,1000,2000,3000,4000,5000,6000,7000,8000,9000,10000],"labelExpr":"abs(log(datum.value)/LN10-round(log(datum.value)/LN10))<0.01?'10'+(datum.value<0.5?'⁻':'')+['⁰','¹','²','³','⁴','⁵','⁶'][abs(round(log(datum.value)/LN10))]:''","tickSize":{"condition":{"test":"abs(log(datum.value)/LN10-round(log(datum.value)/LN10))<0.01","value":3},"value":1.8}}},"y":{"field":"v","type":"quantitative","scale":{"type":"log","domain":[0.0565,17.2],"nice":false},"axis":{"title":null,"labels":false,"values":[0.06,0.07,0.08,0.09,0.1,0.2,0.3,0.4,0.5,0.6,0.7,0.8,0.9,1,2,3,4,5,6,7,8,9,10],"tickSize":{"condition":{"test":"abs(log(datum.value)/LN10-round(log(datum.value)/LN10))<0.01","value":3},"value":1.8}}}},
"layer":[
{"data":{"name":"p12t"},"mark":{"type":"line","color":"#d62728","strokeWidth":1,"opacity":0.4,"clip":true,"point":{"shape":"M0,-1.6L0,1.6M-0.6,-1.6L0.6,-1.6M-0.6,1.6L0.6,1.6M0,-0.85L0.55,0L0,0.85L-0.55,0Z","size":24,"filled":true,"color":"#d62728","stroke":"#d62728","strokeWidth":0.7,"opacity":0.4}},"encoding":{"detail":{"field":"m"}}},
{"data":{"name":"p12"},"mark":{"type":"line","strokeWidth":3,"clip":true,"point":{"shape":"M0,-1.6L0,1.6M-0.6,-1.6L0.6,-1.6M-0.6,1.6L0.6,1.6M0,-0.85L0.55,0L0,0.85L-0.55,0Z","size":50,"filled":true,"stroke":"#d62728","strokeWidth":1}},"encoding":{"color":{"field":"m","type":"nominal","scale":{"range":["#d62728"]},"legend":{"title":null,"orient":"top-right","symbolType":"M-1,0L3,0M1,-0.9L1,0.9M0.6,-0.9L1.4,-0.9M0.6,0.9L1.4,0.9"}}}}
]},
{"width":154,"height":81,"encoding":{"x":{"field":"N","type":"quantitative","scale":{"type":"log","domain":[35.5,16200],"nice":false},"axis":{"title":null,"values":[40,50,60,70,80,90,100,200,300,400,500,600,700,800,900,1000,2000,3000,4000,5000,6000,7000,8000,9000,10000],"labelExpr":"abs(log(datum.value)/LN10-round(log(datum.value)/LN10))<0.01?'10'+(datum.value<0.5?'⁻':'')+['⁰','¹','²','³','⁴','⁵','⁶'][abs(round(log(datum.value)/LN10))]:''","tickSize":{"condition":{"test":"abs(log(datum.value)/LN10-round(log(datum.value)/LN10))<0.01","value":3},"value":1.8}}},"y":{"field":"v","type":"quantitative","scale":{"type":"log","domain":[0.0565,17.2],"nice":false},"axis":{"title":null,"labels":false,"values":[0.06,0.07,0.08,0.09,0.1,0.2,0.3,0.4,0.5,0.6,0.7,0.8,0.9,1,2,3,4,5,6,7,8,9,10],"tickSize":{"condition":{"test":"abs(log(datum.value)/LN10-round(log(datum.value)/LN10))<0.01","value":3},"value":1.8}}}},
"layer":[
{"data":{"name":"p13t"},"mark":{"type":"line","color":"#9467bd","strokeWidth":1,"opacity":0.4,"clip":true,"point":{"shape":"M0,-1.6L0,1.6M-0.6,-1.6L0.6,-1.6M-0.6,1.6L0.6,1.6M0,-0.85L0.55,0L0,0.85L-0.55,0Z","size":24,"filled":true,"color":"#9467bd","stroke":"#9467bd","strokeWidth":0.7,"opacity":0.4}},"encoding":{"detail":{"field":"m"}}},
{"data":{"name":"p13"},"mark":{"type":"line","strokeWidth":3,"clip":true,"point":{"shape":"M0,-1.6L0,1.6M-0.6,-1.6L0.6,-1.6M-0.6,1.6L0.6,1.6M0,-0.85L0.55,0L0,0.85L-0.55,0Z","size":50,"filled":true,"stroke":"#9467bd","strokeWidth":1}},"encoding":{"color":{"field":"m","type":"nominal","scale":{"range":["#9467bd"]},"legend":{"title":null,"orient":"bottom-left","symbolType":"M-1,0L3,0M1,-0.9L1,0.9M0.6,-0.9L1.4,-0.9M0.6,0.9L1.4,0.9"}}}}
]},
{"width":154,"height":81,"encoding":{"x":{"field":"N","type":"quantitative","scale":{"type":"log","domain":[35.5,16200],"nice":false},"axis":{"title":null,"values":[40,50,60,70,80,90,100,200,300,400,500,600,700,800,900,1000,2000,3000,4000,5000,6000,7000,8000,9000,10000],"labelExpr":"abs(log(datum.value)/LN10-round(log(datum.value)/LN10))<0.01?'10'+(datum.value<0.5?'⁻':'')+['⁰','¹','²','³','⁴','⁵','⁶'][abs(round(log(datum.value)/LN10))]:''","tickSize":{"condition":{"test":"abs(log(datum.value)/LN10-round(log(datum.value)/LN10))<0.01","value":3},"value":1.8}}},"y":{"field":"v","type":"quantitative","scale":{"type":"log","domain":[0.0565,17.2],"nice":false},"axis":{"title":null,"labels":false,"values":[0.06,0.07,0.08,0.09,0.1,0.2,0.3,0.4,0.5,0.6,0.7,0.8,0.9,1,2,3,4,5,6,7,8,9,10],"tickSize":{"condition":{"test":"abs(log(datum.value)/LN10-round(log(datum.value)/LN10))<0.01","value":3},"value":1.8}}}},
"layer":[
{"data":{"name":"p14t"},"mark":{"type":"line","color":"#1f77b4","strokeWidth":1,"opacity":0.4,"clip":true,"point":{"shape":"M0,-1.6L0,1.6M-0.6,-1.6L0.6,-1.6M-0.6,1.6L0.6,1.6M0,-0.85L0.55,0L0,0.85L-0.55,0Z","size":24,"filled":true,"color":"#1f77b4","stroke":"#1f77b4","strokeWidth":0.7,"opacity":0.4}},"encoding":{"detail":{"field":"m"}}},
{"data":{"name":"p14"},"mark":{"type":"line","strokeWidth":3,"clip":true,"point":{"shape":"M0,-1.6L0,1.6M-0.6,-1.6L0.6,-1.6M-0.6,1.6L0.6,1.6M0,-0.85L0.55,0L0,0.85L-0.55,0Z","size":50,"filled":true,"stroke":"#1f77b4","strokeWidth":1}},"encoding":{"color":{"field":"m","type":"nominal","scale":{"range":["#1f77b4"]},"legend":{"title":null,"orient":"bottom-left","symbolType":"M-1,0L3,0M1,-0.9L1,0.9M0.6,-0.9L1.4,-0.9M0.6,0.9L1.4,0.9"}}}}
]},
{"width":154,"height":81,"encoding":{"x":{"field":"N","type":"quantitative","scale":{"type":"log","domain":[35.5,16200],"nice":false},"axis":{"title":null,"values":[40,50,60,70,80,90,100,200,300,400,500,600,700,800,900,1000,2000,3000,4000,5000,6000,7000,8000,9000,10000],"labelExpr":"abs(log(datum.value)/LN10-round(log(datum.value)/LN10))<0.01?'10'+(datum.value<0.5?'⁻':'')+['⁰','¹','²','³','⁴','⁵','⁶'][abs(round(log(datum.value)/LN10))]:''","tickSize":{"condition":{"test":"abs(log(datum.value)/LN10-round(log(datum.value)/LN10))<0.01","value":3},"value":1.8}}},"y":{"field":"v","type":"quantitative","scale":{"type":"log","domain":[0.0565,17.2],"nice":false},"axis":{"title":null,"labels":false,"values":[0.06,0.07,0.08,0.09,0.1,0.2,0.3,0.4,0.5,0.6,0.7,0.8,0.9,1,2,3,4,5,6,7,8,9,10],"tickSize":{"condition":{"test":"abs(log(datum.value)/LN10-round(log(datum.value)/LN10))<0.01","value":3},"value":1.8}}}},
"layer":[
{"data":{"name":"p15t"},"mark":{"type":"line","color":"#e377c2","strokeWidth":1,"opacity":0.4,"clip":true,"point":{"shape":"M0,-1.6L0,1.6M-0.6,-1.6L0.6,-1.6M-0.6,1.6L0.6,1.6M0,-0.85L0.55,0L0,0.85L-0.55,0Z","size":24,"filled":true,"color":"#e377c2","stroke":"#e377c2","strokeWidth":0.7,"opacity":0.4}},"encoding":{"detail":{"field":"m"}}},
{"data":{"name":"p15"},"mark":{"type":"line","strokeWidth":3,"clip":true,"point":{"shape":"M0,-1.6L0,1.6M-0.6,-1.6L0.6,-1.6M-0.6,1.6L0.6,1.6M0,-0.85L0.55,0L0,0.85L-0.55,0Z","size":50,"filled":true,"stroke":"#e377c2","strokeWidth":1}},"encoding":{"color":{"field":"m","type":"nominal","scale":{"range":["#e377c2"]},"legend":{"title":null,"orient":"top-right","symbolType":"M-1,0L3,0M1,-0.9L1,0.9M0.6,-0.9L1.4,-0.9M0.6,0.9L1.4,0.9"}}}}
]},
{"width":154,"height":81,"encoding":{"x":{"field":"N","type":"quantitative","scale":{"type":"log","domain":[35.5,16200],"nice":false},"axis":{"title":null,"values":[40,50,60,70,80,90,100,200,300,400,500,600,700,800,900,1000,2000,3000,4000,5000,6000,7000,8000,9000,10000],"labelExpr":"abs(log(datum.value)/LN10-round(log(datum.value)/LN10))<0.01?'10'+(datum.value<0.5?'⁻':'')+['⁰','¹','²','³','⁴','⁵','⁶'][abs(round(log(datum.value)/LN10))]:''","tickSize":{"condition":{"test":"abs(log(datum.value)/LN10-round(log(datum.value)/LN10))<0.01","value":3},"value":1.8}}},"y":{"field":"v","type":"quantitative","scale":{"type":"log","domain":[0.0565,17.2],"nice":false},"axis":{"title":null,"labels":false,"values":[0.06,0.07,0.08,0.09,0.1,0.2,0.3,0.4,0.5,0.6,0.7,0.8,0.9,1,2,3,4,5,6,7,8,9,10],"tickSize":{"condition":{"test":"abs(log(datum.value)/LN10-round(log(datum.value)/LN10))<0.01","value":3},"value":1.8}}}},
"layer":[
{"data":{"name":"p16t"},"mark":{"type":"line","color":"#8c564b","strokeWidth":1,"opacity":0.4,"clip":true,"point":{"shape":"M0,-1.6L0,1.6M-0.6,-1.6L0.6,-1.6M-0.6,1.6L0.6,1.6M0,-0.85L0.55,0L0,0.85L-0.55,0Z","size":24,"filled":true,"color":"#8c564b","stroke":"#8c564b","strokeWidth":0.7,"opacity":0.4}},"encoding":{"detail":{"field":"m"}}},
{"data":{"name":"p16"},"mark":{"type":"line","strokeWidth":3,"clip":true,"point":{"shape":"M0,-1.6L0,1.6M-0.6,-1.6L0.6,-1.6M-0.6,1.6L0.6,1.6M0,-0.85L0.55,0L0,0.85L-0.55,0Z","size":50,"filled":true,"stroke":"#8c564b","strokeWidth":1}},"encoding":{"color":{"field":"m","type":"nominal","scale":{"range":["#8c564b"]},"legend":{"title":null,"orient":"top-right","symbolType":"M-1,0L3,0M1,-0.9L1,0.9M0.6,-0.9L1.4,-0.9M0.6,0.9L1.4,0.9"}}}}
]},
{"width":154,"height":81,"encoding":{"x":{"field":"N","type":"quantitative","scale":{"type":"log","domain":[35.5,16200],"nice":false},"axis":{"title":null,"values":[40,50,60,70,80,90,100,200,300,400,500,600,700,800,900,1000,2000,3000,4000,5000,6000,7000,8000,9000,10000],"labelExpr":"abs(log(datum.value)/LN10-round(log(datum.value)/LN10))<0.01?'10'+(datum.value<0.5?'⁻':'')+['⁰','¹','²','³','⁴','⁵','⁶'][abs(round(log(datum.value)/LN10))]:''","tickSize":{"condition":{"test":"abs(log(datum.value)/LN10-round(log(datum.value)/LN10))<0.01","value":3},"value":1.8}}},"y":{"field":"v","type":"quantitative","scale":{"type":"log","domain":[0.0565,17.2],"nice":false},"axis":{"title":null,"labels":false,"values":[0.06,0.07,0.08,0.09,0.1,0.2,0.3,0.4,0.5,0.6,0.7,0.8,0.9,1,2,3,4,5,6,7,8,9,10],"tickSize":{"condition":{"test":"abs(log(datum.value)/LN10-round(log(datum.value)/LN10))<0.01","value":3},"value":1.8}}}},
"layer":[
{"data":{"name":"p17t"},"mark":{"type":"line","color":"#7f7f7f","strokeWidth":1,"opacity":0.4,"clip":true,"point":{"shape":"M0,-1.6L0,1.6M-0.6,-1.6L0.6,-1.6M-0.6,1.6L0.6,1.6M0,-0.85L0.55,0L0,0.85L-0.55,0Z","size":24,"filled":true,"color":"#7f7f7f","stroke":"#7f7f7f","strokeWidth":0.7,"opacity":0.4}},"encoding":{"detail":{"field":"m"}}},
{"data":{"name":"p17"},"mark":{"type":"line","strokeWidth":3,"clip":true,"point":{"shape":"M0,-1.6L0,1.6M-0.6,-1.6L0.6,-1.6M-0.6,1.6L0.6,1.6M0,-0.85L0.55,0L0,0.85L-0.55,0Z","size":50,"filled":true,"stroke":"#7f7f7f","strokeWidth":1}},"encoding":{"color":{"field":"m","type":"nominal","scale":{"range":["#7f7f7f"]},"legend":{"title":null,"orient":"bottom-left","symbolType":"M-1,0L3,0M1,-0.9L1,0.9M0.6,-0.9L1.4,-0.9M0.6,0.9L1.4,0.9"}}}}
]},
{"width":154,"height":81,
"layer":[
{"data":{"name":"p21t"},"mark":{"type":"line","color":"#ff7f0e","strokeWidth":1,"opacity":0.4,"clip":true,"point":{"shape":"M0,-1.6L0,1.6M-0.6,-1.6L0.6,-1.6M-0.6,1.6L0.6,1.6M0,-0.85L0.55,0L0,0.85L-0.55,0Z","size":24,"filled":true,"color":"#ff7f0e","stroke":"#ff7f0e","strokeWidth":0.7,"opacity":0.4}},"encoding":{"x":{"field":"N","type":"quantitative","scale":{"type":"log","domain":[35.5,16200],"nice":false},"axis":{"title":null,"values":[40,50,60,70,80,90,100,200,300,400,500,600,700,800,900,1000,2000,3000,4000,5000,6000,7000,8000,9000,10000],"labelExpr":"abs(log(datum.value)/LN10-round(log(datum.value)/LN10))<0.01?'10'+(datum.value<0.5?'⁻':'')+['⁰','¹','²','³','⁴','⁵','⁶'][abs(round(log(datum.value)/LN10))]:''","tickSize":{"condition":{"test":"abs(log(datum.value)/LN10-round(log(datum.value)/LN10))<0.01","value":3},"value":1.8}}},"y":{"field":"v","type":"quantitative","scale":{"type":"log","domain":[0.92,153],"nice":false},"axis":{"title":"FE[eV]","values":[1,2,3,4,5,6,7,8,9,10,20,30,40,50,60,70,80,90,100],"labelExpr":"abs(log(datum.value)/LN10-round(log(datum.value)/LN10))<0.01?'10'+(datum.value<0.5?'⁻':'')+['⁰','¹','²','³','⁴','⁵','⁶'][abs(round(log(datum.value)/LN10))]:''","tickSize":{"condition":{"test":"abs(log(datum.value)/LN10-round(log(datum.value)/LN10))<0.01","value":3},"value":1.8}}},"detail":{"field":"m"}}},
{"data":{"name":"p21"},"mark":{"type":"line","strokeWidth":3,"clip":true,"point":{"shape":"M0,-1.6L0,1.6M-0.6,-1.6L0.6,-1.6M-0.6,1.6L0.6,1.6M0,-0.85L0.55,0L0,0.85L-0.55,0Z","size":50,"filled":true,"stroke":"#ff7f0e","strokeWidth":1}},"encoding":{"x":{"field":"N","type":"quantitative"},"y":{"field":"v","type":"quantitative"},"color":{"field":"m","type":"nominal","scale":{"range":["#ff7f0e"]},"legend":{"title":null,"orient":"none","legendX":70,"legendY":35,"symbolType":"M-1,0L3,0M1,-0.9L1,0.9M0.6,-0.9L1.4,-0.9M0.6,0.9L1.4,0.9"}}}},
{"data":{"values":[{"t":"TAATA"}]},"mark":{"type":"text","font":"DejaVu Sans","fontWeight":"bold","fontSize":12.5,"align":"left","baseline":"alphabetic","color":"#000"},"encoding":{"x":{"datum":48.7},"y":{"datum":1.26},"text":{"field":"t"}}}
]},
{"width":154,"height":81,"encoding":{"x":{"field":"N","type":"quantitative","scale":{"type":"log","domain":[35.5,16200],"nice":false},"axis":{"title":null,"values":[40,50,60,70,80,90,100,200,300,400,500,600,700,800,900,1000,2000,3000,4000,5000,6000,7000,8000,9000,10000],"labelExpr":"abs(log(datum.value)/LN10-round(log(datum.value)/LN10))<0.01?'10'+(datum.value<0.5?'⁻':'')+['⁰','¹','²','³','⁴','⁵','⁶'][abs(round(log(datum.value)/LN10))]:''","tickSize":{"condition":{"test":"abs(log(datum.value)/LN10-round(log(datum.value)/LN10))<0.01","value":3},"value":1.8}}},"y":{"field":"v","type":"quantitative","scale":{"type":"log","domain":[0.92,153],"nice":false},"axis":{"title":null,"labels":false,"values":[1,2,3,4,5,6,7,8,9,10,20,30,40,50,60,70,80,90,100],"tickSize":{"condition":{"test":"abs(log(datum.value)/LN10-round(log(datum.value)/LN10))<0.01","value":3},"value":1.8}}}},
"layer":[
{"data":{"name":"p22t"},"mark":{"type":"line","color":"#d62728","strokeWidth":1,"opacity":0.4,"clip":true,"point":{"shape":"M0,-1.6L0,1.6M-0.6,-1.6L0.6,-1.6M-0.6,1.6L0.6,1.6M0,-0.85L0.55,0L0,0.85L-0.55,0Z","size":24,"filled":true,"color":"#d62728","stroke":"#d62728","strokeWidth":0.7,"opacity":0.4}},"encoding":{"detail":{"field":"m"}}},
{"data":{"name":"p22"},"mark":{"type":"line","strokeWidth":3,"clip":true,"point":{"shape":"M0,-1.6L0,1.6M-0.6,-1.6L0.6,-1.6M-0.6,1.6L0.6,1.6M0,-0.85L0.55,0L0,0.85L-0.55,0Z","size":50,"filled":true,"stroke":"#d62728","strokeWidth":1}},"encoding":{"color":{"field":"m","type":"nominal","scale":{"range":["#d62728"]},"legend":{"title":null,"orient":"bottom-left","symbolType":"M-1,0L3,0M1,-0.9L1,0.9M0.6,-0.9L1.4,-0.9M0.6,0.9L1.4,0.9"}}}}
]},
{"width":154,"height":81,"encoding":{"x":{"field":"N","type":"quantitative","scale":{"type":"log","domain":[35.5,16200],"nice":false},"axis":{"title":null,"values":[40,50,60,70,80,90,100,200,300,400,500,600,700,800,900,1000,2000,3000,4000,5000,6000,7000,8000,9000,10000],"labelExpr":"abs(log(datum.value)/LN10-round(log(datum.value)/LN10))<0.01?'10'+(datum.value<0.5?'⁻':'')+['⁰','¹','²','³','⁴','⁵','⁶'][abs(round(log(datum.value)/LN10))]:''","tickSize":{"condition":{"test":"abs(log(datum.value)/LN10-round(log(datum.value)/LN10))<0.01","value":3},"value":1.8}}},"y":{"field":"v","type":"quantitative","scale":{"type":"log","domain":[0.92,153],"nice":false},"axis":{"title":null,"labels":false,"values":[1,2,3,4,5,6,7,8,9,10,20,30,40,50,60,70,80,90,100],"tickSize":{"condition":{"test":"abs(log(datum.value)/LN10-round(log(datum.value)/LN10))<0.01","value":3},"value":1.8}}}},
"layer":[
{"data":{"name":"p23t"},"mark":{"type":"line","color":"#8c564b","strokeWidth":1,"opacity":0.4,"clip":true,"point":{"shape":"M0,-1.6L0,1.6M-0.6,-1.6L0.6,-1.6M-0.6,1.6L0.6,1.6M0,-0.85L0.55,0L0,0.85L-0.55,0Z","size":24,"filled":true,"color":"#8c564b","stroke":"#8c564b","strokeWidth":0.7,"opacity":0.4}},"encoding":{"detail":{"field":"m"}}},
{"data":{"name":"p23"},"mark":{"type":"line","strokeWidth":3,"clip":true,"point":{"shape":"M0,-1.6L0,1.6M-0.6,-1.6L0.6,-1.6M-0.6,1.6L0.6,1.6M0,-0.85L0.55,0L0,0.85L-0.55,0Z","size":50,"filled":true,"stroke":"#8c564b","strokeWidth":1}},"encoding":{"color":{"field":"m","type":"nominal","scale":{"range":["#8c564b"]},"legend":{"title":null,"orient":"top-right","symbolType":"M-1,0L3,0M1,-0.9L1,0.9M0.6,-0.9L1.4,-0.9M0.6,0.9L1.4,0.9"}}}}
]},
{"width":154,"height":81,"encoding":{"x":{"field":"N","type":"quantitative","scale":{"type":"log","domain":[35.5,16200],"nice":false},"axis":{"title":null,"values":[40,50,60,70,80,90,100,200,300,400,500,600,700,800,900,1000,2000,3000,4000,5000,6000,7000,8000,9000,10000],"labelExpr":"abs(log(datum.value)/LN10-round(log(datum.value)/LN10))<0.01?'10'+(datum.value<0.5?'⁻':'')+['⁰','¹','²','³','⁴','⁵','⁶'][abs(round(log(datum.value)/LN10))]:''","tickSize":{"condition":{"test":"abs(log(datum.value)/LN10-round(log(datum.value)/LN10))<0.01","value":3},"value":1.8}}},"y":{"field":"v","type":"quantitative","scale":{"type":"log","domain":[0.92,153],"nice":false},"axis":{"title":null,"labels":false,"values":[1,2,3,4,5,6,7,8,9,10,20,30,40,50,60,70,80,90,100],"tickSize":{"condition":{"test":"abs(log(datum.value)/LN10-round(log(datum.value)/LN10))<0.01","value":3},"value":1.8}}}},
"layer":[
{"data":{"name":"p24t"},"mark":{"type":"line","color":"#1f77b4","strokeWidth":1,"opacity":0.4,"clip":true,"point":{"shape":"M0,-1.6L0,1.6M-0.6,-1.6L0.6,-1.6M-0.6,1.6L0.6,1.6M0,-0.85L0.55,0L0,0.85L-0.55,0Z","size":24,"filled":true,"color":"#1f77b4","stroke":"#1f77b4","strokeWidth":0.7,"opacity":0.4}},"encoding":{"detail":{"field":"m"}}},
{"data":{"name":"p24"},"mark":{"type":"line","strokeWidth":3,"clip":true,"point":{"shape":"M0,-1.6L0,1.6M-0.6,-1.6L0.6,-1.6M-0.6,1.6L0.6,1.6M0,-0.85L0.55,0L0,0.85L-0.55,0Z","size":50,"filled":true,"stroke":"#1f77b4","strokeWidth":1}},"encoding":{"color":{"field":"m","type":"nominal","scale":{"range":["#1f77b4"]},"legend":{"title":null,"orient":"bottom-left","symbolType":"M-1,0L3,0M1,-0.9L1,0.9M0.6,-0.9L1.4,-0.9M0.6,0.9L1.4,0.9"}}}}
]},
{"width":154,"height":81,"encoding":{"x":{"field":"N","type":"quantitative","scale":{"type":"log","domain":[35.5,16200],"nice":false},"axis":{"title":null,"values":[40,50,60,70,80,90,100,200,300,400,500,600,700,800,900,1000,2000,3000,4000,5000,6000,7000,8000,9000,10000],"labelExpr":"abs(log(datum.value)/LN10-round(log(datum.value)/LN10))<0.01?'10'+(datum.value<0.5?'⁻':'')+['⁰','¹','²','³','⁴','⁵','⁶'][abs(round(log(datum.value)/LN10))]:''","tickSize":{"condition":{"test":"abs(log(datum.value)/LN10-round(log(datum.value)/LN10))<0.01","value":3},"value":1.8}}},"y":{"field":"v","type":"quantitative","scale":{"type":"log","domain":[0.92,153],"nice":false},"axis":{"title":null,"labels":false,"values":[1,2,3,4,5,6,7,8,9,10,20,30,40,50,60,70,80,90,100],"tickSize":{"condition":{"test":"abs(log(datum.value)/LN10-round(log(datum.value)/LN10))<0.01","value":3},"value":1.8}}}},
"layer":[
{"data":{"name":"p25t"},"mark":{"type":"line","color":"#9467bd","strokeWidth":1,"opacity":0.4,"clip":true,"point":{"shape":"M0,-1.6L0,1.6M-0.6,-1.6L0.6,-1.6M-0.6,1.6L0.6,1.6M0,-0.85L0.55,0L0,0.85L-0.55,0Z","size":24,"filled":true,"color":"#9467bd","stroke":"#9467bd","strokeWidth":0.7,"opacity":0.4}},"encoding":{"detail":{"field":"m"}}},
{"data":{"name":"p25"},"mark":{"type":"line","strokeWidth":3,"clip":true,"point":{"shape":"M0,-1.6L0,1.6M-0.6,-1.6L0.6,-1.6M-0.6,1.6L0.6,1.6M0,-0.85L0.55,0L0,0.85L-0.55,0Z","size":50,"filled":true,"stroke":"#9467bd","strokeWidth":1}},"encoding":{"color":{"field":"m","type":"nominal","scale":{"range":["#9467bd"]},"legend":{"title":null,"orient":"bottom-left","symbolType":"M-1,0L3,0M1,-0.9L1,0.9M0.6,-0.9L1.4,-0.9M0.6,0.9L1.4,0.9"}}}}
]},
{"width":154,"height":81,"encoding":{"x":{"field":"N","type":"quantitative","scale":{"type":"log","domain":[35.5,16200],"nice":false},"axis":{"title":null,"values":[40,50,60,70,80,90,100,200,300,400,500,600,700,800,900,1000,2000,3000,4000,5000,6000,7000,8000,9000,10000],"labelExpr":"abs(log(datum.value)/LN10-round(log(datum.value)/LN10))<0.01?'10'+(datum.value<0.5?'⁻':'')+['⁰','¹','²','³','⁴','⁵','⁶'][abs(round(log(datum.value)/LN10))]:''","tickSize":{"condition":{"test":"abs(log(datum.value)/LN10-round(log(datum.value)/LN10))<0.01","value":3},"value":1.8}}},"y":{"field":"v","type":"quantitative","scale":{"type":"log","domain":[0.92,153],"nice":false},"axis":{"title":null,"labels":false,"values":[1,2,3,4,5,6,7,8,9,10,20,30,40,50,60,70,80,90,100],"tickSize":{"condition":{"test":"abs(log(datum.value)/LN10-round(log(datum.value)/LN10))<0.01","value":3},"value":1.8}}}},
"layer":[
{"data":{"name":"p26t"},"mark":{"type":"line","color":"#e377c2","strokeWidth":1,"opacity":0.4,"clip":true,"point":{"shape":"M0,-1.6L0,1.6M-0.6,-1.6L0.6,-1.6M-0.6,1.6L0.6,1.6M0,-0.85L0.55,0L0,0.85L-0.55,0Z","size":24,"filled":true,"color":"#e377c2","stroke":"#e377c2","strokeWidth":0.7,"opacity":0.4}},"encoding":{"detail":{"field":"m"}}},
{"data":{"name":"p26"},"mark":{"type":"line","strokeWidth":3,"clip":true,"point":{"shape":"M0,-1.6L0,1.6M-0.6,-1.6L0.6,-1.6M-0.6,1.6L0.6,1.6M0,-0.85L0.55,0L0,0.85L-0.55,0Z","size":50,"filled":true,"stroke":"#e377c2","strokeWidth":1}},"encoding":{"color":{"field":"m","type":"nominal","scale":{"range":["#e377c2"]},"legend":{"title":null,"orient":"top-right","symbolType":"M-1,0L3,0M1,-0.9L1,0.9M0.6,-0.9L1.4,-0.9M0.6,0.9L1.4,0.9"}}}}
]},
{"width":154,"height":81,"encoding":{"x":{"field":"N","type":"quantitative","scale":{"type":"log","domain":[35.5,16200],"nice":false},"axis":{"title":null,"values":[40,50,60,70,80,90,100,200,300,400,500,600,700,800,900,1000,2000,3000,4000,5000,6000,7000,8000,9000,10000],"labelExpr":"abs(log(datum.value)/LN10-round(log(datum.value)/LN10))<0.01?'10'+(datum.value<0.5?'⁻':'')+['⁰','¹','²','³','⁴','⁵','⁶'][abs(round(log(datum.value)/LN10))]:''","tickSize":{"condition":{"test":"abs(log(datum.value)/LN10-round(log(datum.value)/LN10))<0.01","value":3},"value":1.8}}},"y":{"field":"v","type":"quantitative","scale":{"type":"log","domain":[0.92,153],"nice":false},"axis":{"title":null,"labels":false,"values":[1,2,3,4,5,6,7,8,9,10,20,30,40,50,60,70,80,90,100],"tickSize":{"condition":{"test":"abs(log(datum.value)/LN10-round(log(datum.value)/LN10))<0.01","value":3},"value":1.8}}}},
"layer":[
{"data":{"name":"p27t"},"mark":{"type":"line","color":"#7f7f7f","strokeWidth":1,"opacity":0.4,"clip":true,"point":{"shape":"M0,-1.6L0,1.6M-0.6,-1.6L0.6,-1.6M-0.6,1.6L0.6,1.6M0,-0.85L0.55,0L0,0.85L-0.55,0Z","size":24,"filled":true,"color":"#7f7f7f","stroke":"#7f7f7f","strokeWidth":0.7,"opacity":0.4}},"encoding":{"detail":{"field":"m"}}},
{"data":{"name":"p27"},"mark":{"type":"line","strokeWidth":3,"clip":true,"point":{"shape":"M0,-1.6L0,1.6M-0.6,-1.6L0.6,-1.6M-0.6,1.6L0.6,1.6M0,-0.85L0.55,0L0,0.85L-0.55,0Z","size":50,"filled":true,"stroke":"#7f7f7f","strokeWidth":1}},"encoding":{"color":{"field":"m","type":"nominal","scale":{"range":["#7f7f7f"]},"legend":{"title":null,"orient":"top-right","symbolType":"M-1,0L3,0M1,-0.9L1,0.9M0.6,-0.9L1.4,-0.9M0.6,0.9L1.4,0.9"}}}}
]},
{"width":154,"height":81,
"layer":[
{"data":{"name":"p31t"},"mark":{"type":"line","color":"#ff7f0e","strokeWidth":1,"opacity":0.4,"clip":true,"point":{"shape":"M0,-1.6L0,1.6M-0.6,-1.6L0.6,-1.6M-0.6,1.6L0.6,1.6M0,-0.85L0.55,0L0,0.85L-0.55,0Z","size":24,"filled":true,"color":"#ff7f0e","stroke":"#ff7f0e","strokeWidth":0.7,"opacity":0.4}},"encoding":{"x":{"field":"N","type":"quantitative","scale":{"type":"log","domain":[26,13060],"nice":false},"axis":{"title":null,"values":[30,40,50,60,70,80,90,100,200,300,400,500,600,700,800,900,1000,2000,3000,4000,5000,6000,7000,8000,9000,10000],"labelExpr":"abs(log(datum.value)/LN10-round(log(datum.value)/LN10))<0.01?'10'+(datum.value<0.5?'⁻':'')+['⁰','¹','²','³','⁴','⁵','⁶'][abs(round(log(datum.value)/LN10))]:''","tickSize":{"condition":{"test":"abs(log(datum.value)/LN10-round(log(datum.value)/LN10))<0.01","value":3},"value":1.8}}},"y":{"field":"v","type":"quantitative","scale":{"type":"log","domain":[0.031,340000],"nice":false},"axis":{"title":"TE[eV]","values":[0.1,1,10,100,1000,10000,100000],"labelExpr":"abs(log(datum.value)/LN10-round(log(datum.value)/LN10))<0.01&&round(log(datum.value)/LN10)%2==0?'10'+(datum.value<0.5?'⁻':'')+['⁰','¹','²','³','⁴','⁵','⁶'][abs(round(log(datum.value)/LN10))]:''","tickSize":3}},"detail":{"field":"m"}}},
{"data":{"name":"p31"},"mark":{"type":"line","strokeWidth":3,"clip":true,"point":{"shape":"M0,-1.6L0,1.6M-0.6,-1.6L0.6,-1.6M-0.6,1.6L0.6,1.6M0,-0.85L0.55,0L0,0.85L-0.55,0Z","size":50,"filled":true,"stroke":"#ff7f0e","strokeWidth":1}},"encoding":{"x":{"field":"N","type":"quantitative"},"y":{"field":"v","type":"quantitative"},"color":{"field":"m","type":"nominal","scale":{"range":["#ff7f0e"]},"legend":{"title":null,"orient":"none","legendX":78,"legendY":34,"symbolType":"M-1,0L3,0M1,-0.9L1,0.9M0.6,-0.9L1.4,-0.9M0.6,0.9L1.4,0.9"}}}},
{"data":{"values":[{"t":"iron"}]},"mark":{"type":"text","font":"DejaVu Sans","fontWeight":"bold","fontSize":12.5,"align":"left","baseline":"alphabetic","color":"#000"},"encoding":{"x":{"datum":35.9},"y":{"datum":0.084},"text":{"field":"t"}}}
]},
{"width":154,"height":81,"encoding":{"x":{"field":"N","type":"quantitative","scale":{"type":"log","domain":[26,13060],"nice":false},"axis":{"title":null,"values":[30,40,50,60,70,80,90,100,200,300,400,500,600,700,800,900,1000,2000,3000,4000,5000,6000,7000,8000,9000,10000],"labelExpr":"abs(log(datum.value)/LN10-round(log(datum.value)/LN10))<0.01?'10'+(datum.value<0.5?'⁻':'')+['⁰','¹','²','³','⁴','⁵','⁶'][abs(round(log(datum.value)/LN10))]:''","tickSize":{"condition":{"test":"abs(log(datum.value)/LN10-round(log(datum.value)/LN10))<0.01","value":3},"value":1.8}}},"y":{"field":"v","type":"quantitative","scale":{"type":"log","domain":[0.031,340000],"nice":false},"axis":{"title":null,"labels":false,"values":[0.1,1,10,100,1000,10000,100000],"tickSize":3}}},
"layer":[
{"data":{"name":"p32t"},"mark":{"type":"line","color":"#d62728","strokeWidth":1,"opacity":0.4,"clip":true,"point":{"shape":"M0,-1.6L0,1.6M-0.6,-1.6L0.6,-1.6M-0.6,1.6L0.6,1.6M0,-0.85L0.55,0L0,0.85L-0.55,0Z","size":24,"filled":true,"color":"#d62728","stroke":"#d62728","strokeWidth":0.7,"opacity":0.4}},"encoding":{"detail":{"field":"m"}}},
{"data":{"name":"p32"},"mark":{"type":"line","strokeWidth":3,"clip":true,"point":{"shape":"M0,-1.6L0,1.6M-0.6,-1.6L0.6,-1.6M-0.6,1.6L0.6,1.6M0,-0.85L0.55,0L0,0.85L-0.55,0Z","size":50,"filled":true,"stroke":"#d62728","strokeWidth":1}},"encoding":{"color":{"field":"m","type":"nominal","scale":{"range":["#d62728"]},"legend":{"title":null,"orient":"none","legendX":101,"legendY":34,"symbolType":"M-1,0L3,0M1,-0.9L1,0.9M0.6,-0.9L1.4,-0.9M0.6,0.9L1.4,0.9"}}}}
]},
{"width":154,"height":81,"encoding":{"x":{"field":"N","type":"quantitative","scale":{"type":"log","domain":[26,13060],"nice":false},"axis":{"title":null,"values":[30,40,50,60,70,80,90,100,200,300,400,500,600,700,800,900,1000,2000,3000,4000,5000,6000,7000,8000,9000,10000],"labelExpr":"abs(log(datum.value)/LN10-round(log(datum.value)/LN10))<0.01?'10'+(datum.value<0.5?'⁻':'')+['⁰','¹','²','³','⁴','⁵','⁶'][abs(round(log(datum.value)/LN10))]:''","tickSize":{"condition":{"test":"abs(log(datum.value)/LN10-round(log(datum.value)/LN10))<0.01","value":3},"value":1.8}}},"y":{"field":"v","type":"quantitative","scale":{"type":"log","domain":[0.031,340000],"nice":false},"axis":{"title":null,"labels":false,"values":[0.1,1,10,100,1000,10000,100000],"tickSize":3}}},
"layer":[
{"data":{"name":"p33t"},"mark":{"type":"line","color":"#8c564b","strokeWidth":1,"opacity":0.4,"clip":true,"point":{"shape":"M0,-1.6L0,1.6M-0.6,-1.6L0.6,-1.6M-0.6,1.6L0.6,1.6M0,-0.85L0.55,0L0,0.85L-0.55,0Z","size":24,"filled":true,"color":"#8c564b","stroke":"#8c564b","strokeWidth":0.7,"opacity":0.4}},"encoding":{"detail":{"field":"m"}}},
{"data":{"name":"p33"},"mark":{"type":"line","strokeWidth":3,"clip":true,"point":{"shape":"M0,-1.6L0,1.6M-0.6,-1.6L0.6,-1.6M-0.6,1.6L0.6,1.6M0,-0.85L0.55,0L0,0.85L-0.55,0Z","size":50,"filled":true,"stroke":"#8c564b","strokeWidth":1}},"encoding":{"color":{"field":"m","type":"nominal","scale":{"range":["#8c564b"]},"legend":{"title":null,"orient":"top-right","symbolType":"M-1,0L3,0M1,-0.9L1,0.9M0.6,-0.9L1.4,-0.9M0.6,0.9L1.4,0.9"}}}}
]},
{"width":154,"height":81,"encoding":{"x":{"field":"N","type":"quantitative","scale":{"type":"log","domain":[26,13060],"nice":false},"axis":{"title":null,"values":[30,40,50,60,70,80,90,100,200,300,400,500,600,700,800,900,1000,2000,3000,4000,5000,6000,7000,8000,9000,10000],"labelExpr":"abs(log(datum.value)/LN10-round(log(datum.value)/LN10))<0.01?'10'+(datum.value<0.5?'⁻':'')+['⁰','¹','²','³','⁴','⁵','⁶'][abs(round(log(datum.value)/LN10))]:''","tickSize":{"condition":{"test":"abs(log(datum.value)/LN10-round(log(datum.value)/LN10))<0.01","value":3},"value":1.8}}},"y":{"field":"v","type":"quantitative","scale":{"type":"log","domain":[0.031,340000],"nice":false},"axis":{"title":null,"labels":false,"values":[0.1,1,10,100,1000,10000,100000],"tickSize":3}}},
"layer":[
{"data":{"name":"p34t"},"mark":{"type":"line","color":"#1f77b4","strokeWidth":1,"opacity":0.4,"clip":true,"point":{"shape":"M0,-1.6L0,1.6M-0.6,-1.6L0.6,-1.6M-0.6,1.6L0.6,1.6M0,-0.85L0.55,0L0,0.85L-0.55,0Z","size":24,"filled":true,"color":"#1f77b4","stroke":"#1f77b4","strokeWidth":0.7,"opacity":0.4}},"encoding":{"detail":{"field":"m"}}},
{"data":{"name":"p34"},"mark":{"type":"line","strokeWidth":3,"clip":true,"point":{"shape":"M0,-1.6L0,1.6M-0.6,-1.6L0.6,-1.6M-0.6,1.6L0.6,1.6M0,-0.85L0.55,0L0,0.85L-0.55,0Z","size":50,"filled":true,"stroke":"#1f77b4","strokeWidth":1}},"encoding":{"color":{"field":"m","type":"nominal","scale":{"range":["#1f77b4"]},"legend":{"title":null,"orient":"none","legendX":98,"legendY":34,"symbolType":"M-1,0L3,0M1,-0.9L1,0.9M0.6,-0.9L1.4,-0.9M0.6,0.9L1.4,0.9"}}}}
]},
{"width":154,"height":81,"encoding":{"x":{"field":"N","type":"quantitative","scale":{"type":"log","domain":[26,13060],"nice":false},"axis":{"title":null,"values":[30,40,50,60,70,80,90,100,200,300,400,500,600,700,800,900,1000,2000,3000,4000,5000,6000,7000,8000,9000,10000],"labelExpr":"abs(log(datum.value)/LN10-round(log(datum.value)/LN10))<0.01?'10'+(datum.value<0.5?'⁻':'')+['⁰','¹','²','³','⁴','⁵','⁶'][abs(round(log(datum.value)/LN10))]:''","tickSize":{"condition":{"test":"abs(log(datum.value)/LN10-round(log(datum.value)/LN10))<0.01","value":3},"value":1.8}}},"y":{"field":"v","type":"quantitative","scale":{"type":"log","domain":[0.031,340000],"nice":false},"axis":{"title":null,"labels":false,"values":[0.1,1,10,100,1000,10000,100000],"tickSize":3}}},
"layer":[
{"data":{"name":"p35t"},"mark":{"type":"line","color":"#9467bd","strokeWidth":1,"opacity":0.4,"clip":true,"point":{"shape":"M0,-1.6L0,1.6M-0.6,-1.6L0.6,-1.6M-0.6,1.6L0.6,1.6M0,-0.85L0.55,0L0,0.85L-0.55,0Z","size":24,"filled":true,"color":"#9467bd","stroke":"#9467bd","strokeWidth":0.7,"opacity":0.4}},"encoding":{"detail":{"field":"m"}}},
{"data":{"name":"p35"},"mark":{"type":"line","strokeWidth":3,"clip":true,"point":{"shape":"M0,-1.6L0,1.6M-0.6,-1.6L0.6,-1.6M-0.6,1.6L0.6,1.6M0,-0.85L0.55,0L0,0.85L-0.55,0Z","size":50,"filled":true,"stroke":"#9467bd","strokeWidth":1}},"encoding":{"color":{"field":"m","type":"nominal","scale":{"range":["#9467bd"]},"legend":{"title":null,"orient":"none","legendX":4,"legendY":34,"symbolType":"M-1,0L3,0M1,-0.9L1,0.9M0.6,-0.9L1.4,-0.9M0.6,0.9L1.4,0.9"}}}}
]},
{"width":154,"height":81,"encoding":{"x":{"field":"N","type":"quantitative","scale":{"type":"log","domain":[26,13060],"nice":false},"axis":{"title":null,"values":[30,40,50,60,70,80,90,100,200,300,400,500,600,700,800,900,1000,2000,3000,4000,5000,6000,7000,8000,9000,10000],"labelExpr":"abs(log(datum.value)/LN10-round(log(datum.value)/LN10))<0.01?'10'+(datum.value<0.5?'⁻':'')+['⁰','¹','²','³','⁴','⁵','⁶'][abs(round(log(datum.value)/LN10))]:''","tickSize":{"condition":{"test":"abs(log(datum.value)/LN10-round(log(datum.value)/LN10))<0.01","value":3},"value":1.8}}},"y":{"field":"v","type":"quantitative","scale":{"type":"log","domain":[0.031,340000],"nice":false},"axis":{"title":null,"labels":false,"values":[0.1,1,10,100,1000,10000,100000],"tickSize":3}}},
"layer":[
{"data":{"name":"p36t"},"mark":{"type":"line","color":"#7f7f7f","strokeWidth":1,"opacity":0.4,"clip":true,"point":{"shape":"M0,-1.6L0,1.6M-0.6,-1.6L0.6,-1.6M-0.6,1.6L0.6,1.6M0,-0.85L0.55,0L0,0.85L-0.55,0Z","size":24,"filled":true,"color":"#7f7f7f","stroke":"#7f7f7f","strokeWidth":0.7,"opacity":0.4}},"encoding":{"detail":{"field":"m"}}},
{"data":{"name":"p36"},"mark":{"type":"line","strokeWidth":3,"clip":true,"point":{"shape":"M0,-1.6L0,1.6M-0.6,-1.6L0.6,-1.6M-0.6,1.6L0.6,1.6M0,-0.85L0.55,0L0,0.85L-0.55,0Z","size":50,"filled":true,"stroke":"#7f7f7f","strokeWidth":1}},"encoding":{"color":{"field":"m","type":"nominal","scale":{"range":["#7f7f7f"]},"legend":{"title":null,"orient":"top-right","symbolType":"M-1,0L3,0M1,-0.9L1,0.9M0.6,-0.9L1.4,-0.9M0.6,0.9L1.4,0.9"}}}}
]},
{"width":154,"height":81,"encoding":{"x":{"field":"N","type":"quantitative","scale":{"type":"log","domain":[26,13060],"nice":false},"axis":{"title":null,"values":[30,40,50,60,70,80,90,100,200,300,400,500,600,700,800,900,1000,2000,3000,4000,5000,6000,7000,8000,9000,10000],"labelExpr":"abs(log(datum.value)/LN10-round(log(datum.value)/LN10))<0.01?'10'+(datum.value<0.5?'⁻':'')+['⁰','¹','²','³','⁴','⁵','⁶'][abs(round(log(datum.value)/LN10))]:''","tickSize":{"condition":{"test":"abs(log(datum.value)/LN10-round(log(datum.value)/LN10))<0.01","value":3},"value":1.8}}},"y":{"field":"v","type":"quantitative","scale":{"type":"log","domain":[0.031,340000],"nice":false},"axis":{"title":null,"labels":false,"values":[0.1,1,10,100,1000,10000,100000],"tickSize":3}}},
"layer":[
{"data":{"name":"p37t"},"mark":{"type":"line","color":"#e377c2","strokeWidth":1,"opacity":0.4,"clip":true,"point":{"shape":"M0,-1.6L0,1.6M-0.6,-1.6L0.6,-1.6M-0.6,1.6L0.6,1.6M0,-0.85L0.55,0L0,0.85L-0.55,0Z","size":24,"filled":true,"color":"#e377c2","stroke":"#e377c2","strokeWidth":0.7,"opacity":0.4}},"encoding":{"detail":{"field":"m"}}},
{"data":{"name":"p37"},"mark":{"type":"line","strokeWidth":3,"clip":true,"point":{"shape":"M0,-1.6L0,1.6M-0.6,-1.6L0.6,-1.6M-0.6,1.6L0.6,1.6M0,-0.85L0.55,0L0,0.85L-0.55,0Z","size":50,"filled":true,"stroke":"#e377c2","strokeWidth":1}},"encoding":{"color":{"field":"m","type":"nominal","scale":{"range":["#e377c2"]},"legend":{"title":null,"orient":"top-right","symbolType":"M-1,0L3,0M1,-0.9L1,0.9M0.6,-0.9L1.4,-0.9M0.6,0.9L1.4,0.9"}}}}
]},
{"width":154,"height":81,
"layer":[
{"data":{"name":"p41t"},"mark":{"type":"line","color":"#ff7f0e","strokeWidth":1,"opacity":0.4,"clip":true,"point":{"shape":"M0,-1.6L0,1.6M-0.6,-1.6L0.6,-1.6M-0.6,1.6L0.6,1.6M0,-0.85L0.55,0L0,0.85L-0.55,0Z","size":24,"filled":true,"color":"#ff7f0e","stroke":"#ff7f0e","strokeWidth":0.7,"opacity":0.4}},"encoding":{"x":{"field":"N","type":"quantitative","scale":{"type":"log","domain":[5.7,2670],"nice":false},"axis":{"title":null,"values":[6,7,8,9,10,20,30,40,50,60,70,80,90,100,200,300,400,500,600,700,800,900,1000,2000],"labelExpr":"abs(log(datum.value)/LN10-round(log(datum.value)/LN10))<0.01?'10'+(datum.value<0.5?'⁻':'')+['⁰','¹','²','³','⁴','⁵','⁶'][abs(round(log(datum.value)/LN10))]:''","tickSize":{"condition":{"test":"abs(log(datum.value)/LN10-round(log(datum.value)/LN10))<0.01","value":3},"value":1.8}}},"y":{"field":"v","type":"quantitative","scale":{"type":"log","domain":[0.43,17000],"nice":false},"axis":{"title":"TE[eV]","values":[1,10,100,1000,10000],"labelExpr":"abs(log(datum.value)/LN10-round(log(datum.value)/LN10))<0.01&&abs(round(log(datum.value)/LN10))%2==1?'10'+(datum.value<0.5?'⁻':'')+['⁰','¹','²','³','⁴','⁵','⁶'][abs(round(log(datum.value)/LN10))]:''","tickSize":3}},"detail":{"field":"m"}}},
{"data":{"name":"p41"},"mark":{"type":"line","strokeWidth":3,"clip":true,"point":{"shape":"M0,-1.6L0,1.6M-0.6,-1.6L0.6,-1.6M-0.6,1.6L0.6,1.6M0,-0.85L0.55,0L0,0.85L-0.55,0Z","size":50,"filled":true,"stroke":"#ff7f0e","strokeWidth":1}},"encoding":{"x":{"field":"N","type":"quantitative"},"y":{"field":"v","type":"quantitative"},"color":{"field":"m","type":"nominal","scale":{"range":["#ff7f0e"]},"legend":{"title":null,"orient":"none","legendX":70,"legendY":34,"symbolType":"M-1,0L3,0M1,-0.9L1,0.9M0.6,-0.9L1.4,-0.9M0.6,0.9L1.4,0.9"}}}},
{"data":{"values":[{"t":"silicon"}]},"mark":{"type":"text","font":"DejaVu Sans","fontWeight":"bold","fontSize":12.5,"align":"left","baseline":"alphabetic","color":"#000"},"encoding":{"x":{"datum":7.85},"y":{"datum":0.83},"text":{"field":"t"}}}
]},
{"width":154,"height":81,"encoding":{"x":{"field":"N","type":"quantitative","scale":{"type":"log","domain":[5.7,2670],"nice":false},"axis":{"title":null,"values":[6,7,8,9,10,20,30,40,50,60,70,80,90,100,200,300,400,500,600,700,800,900,1000,2000],"labelExpr":"abs(log(datum.value)/LN10-round(log(datum.value)/LN10))<0.01?'10'+(datum.value<0.5?'⁻':'')+['⁰','¹','²','³','⁴','⁵','⁶'][abs(round(log(datum.value)/LN10))]:''","tickSize":{"condition":{"test":"abs(log(datum.value)/LN10-round(log(datum.value)/LN10))<0.01","value":3},"value":1.8}}},"y":{"field":"v","type":"quantitative","scale":{"type":"log","domain":[0.43,17000],"nice":false},"axis":{"title":null,"labels":false,"values":[1,10,100,1000,10000],"tickSize":3}}},
"layer":[
{"data":{"name":"p42t"},"mark":{"type":"line","color":"#d62728","strokeWidth":1,"opacity":0.4,"clip":true,"point":{"shape":"M0,-1.6L0,1.6M-0.6,-1.6L0.6,-1.6M-0.6,1.6L0.6,1.6M0,-0.85L0.55,0L0,0.85L-0.55,0Z","size":24,"filled":true,"color":"#d62728","stroke":"#d62728","strokeWidth":0.7,"opacity":0.4}},"encoding":{"detail":{"field":"m"}}},
{"data":{"name":"p42"},"mark":{"type":"line","strokeWidth":3,"clip":true,"point":{"shape":"M0,-1.6L0,1.6M-0.6,-1.6L0.6,-1.6M-0.6,1.6L0.6,1.6M0,-0.85L0.55,0L0,0.85L-0.55,0Z","size":50,"filled":true,"stroke":"#d62728","strokeWidth":1}},"encoding":{"color":{"field":"m","type":"nominal","scale":{"range":["#d62728"]},"legend":{"title":null,"orient":"none","legendX":88,"legendY":34,"symbolType":"M-1,0L3,0M1,-0.9L1,0.9M0.6,-0.9L1.4,-0.9M0.6,0.9L1.4,0.9"}}}}
]},
{"width":154,"height":81,"encoding":{"x":{"field":"N","type":"quantitative","scale":{"type":"log","domain":[5.7,2670],"nice":false},"axis":{"title":null,"values":[6,7,8,9,10,20,30,40,50,60,70,80,90,100,200,300,400,500,600,700,800,900,1000,2000],"labelExpr":"abs(log(datum.value)/LN10-round(log(datum.value)/LN10))<0.01?'10'+(datum.value<0.5?'⁻':'')+['⁰','¹','²','³','⁴','⁵','⁶'][abs(round(log(datum.value)/LN10))]:''","tickSize":{"condition":{"test":"abs(log(datum.value)/LN10-round(log(datum.value)/LN10))<0.01","value":3},"value":1.8}}},"y":{"field":"v","type":"quantitative","scale":{"type":"log","domain":[0.43,17000],"nice":false},"axis":{"title":null,"labels":false,"values":[1,10,100,1000,10000],"tickSize":3}}},
"layer":[
{"data":{"name":"p43t"},"mark":{"type":"line","color":"#8c564b","strokeWidth":1,"opacity":0.4,"clip":true,"point":{"shape":"M0,-1.6L0,1.6M-0.6,-1.6L0.6,-1.6M-0.6,1.6L0.6,1.6M0,-0.85L0.55,0L0,0.85L-0.55,0Z","size":24,"filled":true,"color":"#8c564b","stroke":"#8c564b","strokeWidth":0.7,"opacity":0.4}},"encoding":{"detail":{"field":"m"}}},
{"data":{"name":"p43"},"mark":{"type":"line","strokeWidth":3,"clip":true,"point":{"shape":"M0,-1.6L0,1.6M-0.6,-1.6L0.6,-1.6M-0.6,1.6L0.6,1.6M0,-0.85L0.55,0L0,0.85L-0.55,0Z","size":50,"filled":true,"stroke":"#8c564b","strokeWidth":1}},"encoding":{"color":{"field":"m","type":"nominal","scale":{"range":["#8c564b"]},"legend":{"title":null,"orient":"top-right","symbolType":"M-1,0L3,0M1,-0.9L1,0.9M0.6,-0.9L1.4,-0.9M0.6,0.9L1.4,0.9"}}}}
]},
{"width":154,"height":81,"encoding":{"x":{"field":"N","type":"quantitative","scale":{"type":"log","domain":[5.7,2670],"nice":false},"axis":{"title":null,"values":[6,7,8,9,10,20,30,40,50,60,70,80,90,100,200,300,400,500,600,700,800,900,1000,2000],"labelExpr":"abs(log(datum.value)/LN10-round(log(datum.value)/LN10))<0.01?'10'+(datum.value<0.5?'⁻':'')+['⁰','¹','²','³','⁴','⁵','⁶'][abs(round(log(datum.value)/LN10))]:''","tickSize":{"condition":{"test":"abs(log(datum.value)/LN10-round(log(datum.value)/LN10))<0.01","value":3},"value":1.8}}},"y":{"field":"v","type":"quantitative","scale":{"type":"log","domain":[0.43,17000],"nice":false},"axis":{"title":null,"labels":false,"values":[1,10,100,1000,10000],"tickSize":3}}},
"layer":[
{"data":{"name":"p44t"},"mark":{"type":"line","color":"#e377c2","strokeWidth":1,"opacity":0.4,"clip":true,"point":{"shape":"M0,-1.6L0,1.6M-0.6,-1.6L0.6,-1.6M-0.6,1.6L0.6,1.6M0,-0.85L0.55,0L0,0.85L-0.55,0Z","size":24,"filled":true,"color":"#e377c2","stroke":"#e377c2","strokeWidth":0.7,"opacity":0.4}},"encoding":{"detail":{"field":"m"}}},
{"data":{"name":"p44"},"mark":{"type":"line","strokeWidth":3,"clip":true,"point":{"shape":"M0,-1.6L0,1.6M-0.6,-1.6L0.6,-1.6M-0.6,1.6L0.6,1.6M0,-0.85L0.55,0L0,0.85L-0.55,0Z","size":50,"filled":true,"stroke":"#e377c2","strokeWidth":1}},"encoding":{"color":{"field":"m","type":"nominal","scale":{"range":["#e377c2"]},"legend":{"title":null,"orient":"top-right","symbolType":"M-1,0L3,0M1,-0.9L1,0.9M0.6,-0.9L1.4,-0.9M0.6,0.9L1.4,0.9"}}}}
]},
{"width":154,"height":81,"data":{"values":[]},"mark":{"type":"point","opacity":0},"encoding":{"x":{"field":"N","type":"quantitative","scale":{"type":"log","domain":[1,10],"nice":false},"axis":{"title":null,"values":[1,2,3,4,5,6,7,8,9,10],"labelExpr":"abs(log(datum.value)/LN10-round(log(datum.value)/LN10))<0.01?'10'+(datum.value<0.5?'⁻':'')+['⁰','¹','²','³','⁴','⁵','⁶'][abs(round(log(datum.value)/LN10))]:''","tickSize":{"condition":{"test":"abs(log(datum.value)/LN10-round(log(datum.value)/LN10))<0.01","value":3},"value":1.8}}},"y":{"field":"v","type":"quantitative","scale":{"domain":[0,1]},"axis":null}}},
{"width":154,"height":81,"data":{"values":[]},"mark":{"type":"point","opacity":0},"encoding":{"x":{"field":"N","type":"quantitative","scale":{"type":"log","domain":[1,10],"nice":false},"axis":{"title":null,"values":[1,2,3,4,5,6,7,8,9,10],"labelExpr":"abs(log(datum.value)/LN10-round(log(datum.value)/LN10))<0.01?'10'+(datum.value<0.5?'⁻':'')+['⁰','¹','²','³','⁴','⁵','⁶'][abs(round(log(datum.value)/LN10))]:''","tickSize":{"condition":{"test":"abs(log(datum.value)/LN10-round(log(datum.value)/LN10))<0.01","value":3},"value":1.8}}},"y":{"field":"v","type":"quantitative","scale":{"domain":[0,1]},"axis":null}}},
{"width":154,"height":81,"data":{"values":[]},"mark":{"type":"point","opacity":0},"encoding":{"x":{"field":"N","type":"quantitative","scale":{"type":"log","domain":[1,10],"nice":false},"axis":{"title":null,"values":[1,2,3,4,5,6,7,8,9,10],"labelExpr":"abs(log(datum.value)/LN10-round(log(datum.value)/LN10))<0.01?'10'+(datum.value<0.5?'⁻':'')+['⁰','¹','²','³','⁴','⁵','⁶'][abs(round(log(datum.value)/LN10))]:''","tickSize":{"condition":{"test":"abs(log(datum.value)/LN10-round(log(datum.value)/LN10))<0.01","value":3},"value":1.8}}},"y":{"field":"v","type":"quantitative","scale":{"domain":[0,1]},"axis":null}}},
{"width":154,"height":81,
"layer":[
{"data":{"name":"p51t"},"mark":{"type":"line","color":"#ff7f0e","strokeWidth":1,"opacity":0.4,"clip":true,"point":{"shape":"M0,-1.6L0,1.6M-0.6,-1.6L0.6,-1.6M-0.6,1.6L0.6,1.6M0,-0.85L0.55,0L0,0.85L-0.55,0Z","size":24,"filled":true,"color":"#ff7f0e","stroke":"#ff7f0e","strokeWidth":0.7,"opacity":0.4}},"encoding":{"x":{"field":"N","type":"quantitative","scale":{"type":"log","domain":[2.83,1585],"nice":false},"axis":{"title":"N","values":[3,4,5,6,7,8,9,10,20,30,40,50,60,70,80,90,100,200,300,400,500,600,700,800,900,1000],"labelExpr":"abs(log(datum.value)/LN10-round(log(datum.value)/LN10))<0.01?'10'+(datum.value<0.5?'⁻':'')+['⁰','¹','²','³','⁴','⁵','⁶'][abs(round(log(datum.value)/LN10))]:''","tickSize":{"condition":{"test":"abs(log(datum.value)/LN10-round(log(datum.value)/LN10))<0.01","value":3},"value":1.8}}},"y":{"field":"v","type":"quantitative","scale":{"type":"log","domain":[0.99,27.1],"nice":false},"axis":{"title":"TE[eV]","values":[1,2,3,4,5,6,7,8,9,10,20],"labelExpr":"abs(log(datum.value)/LN10-round(log(datum.value)/LN10))<0.01?'10'+(datum.value<0.5?'⁻':'')+['⁰','¹','²','³','⁴','⁵','⁶'][abs(round(log(datum.value)/LN10))]:''","tickSize":{"condition":{"test":"abs(log(datum.value)/LN10-round(log(datum.value)/LN10))<0.01","value":3},"value":1.8}}},"detail":{"field":"m"}}},
{"data":{"name":"p51"},"mark":{"type":"line","strokeWidth":3,"clip":true,"point":{"shape":"M0,-1.6L0,1.6M-0.6,-1.6L0.6,-1.6M-0.6,1.6L0.6,1.6M0,-0.85L0.55,0L0,0.85L-0.55,0Z","size":50,"filled":true,"stroke":"#ff7f0e","strokeWidth":1}},"encoding":{"x":{"field":"N","type":"quantitative"},"y":{"field":"v","type":"quantitative"},"color":{"field":"m","type":"nominal","scale":{"range":["#ff7f0e"]},"legend":{"title":null,"orient":"top-right","symbolType":"M-1,0L3,0M1,-0.9L1,0.9M0.6,-0.9L1.4,-0.9M0.6,0.9L1.4,0.9"}}}},
{"data":{"values":[{"t":"revpbe0d3-water"}]},"mark":{"type":"text","font":"DejaVu Sans","fontWeight":"bold","fontSize":12.5,"align":"left","baseline":"alphabetic","color":"#000"},"encoding":{"x":{"datum":3.93},"y":{"datum":1.214},"text":{"field":"t"}}}
]},
{"width":154,"height":81,"encoding":{"x":{"field":"N","type":"quantitative","scale":{"type":"log","domain":[2.83,1585],"nice":false},"axis":{"title":"N","values":[3,4,5,6,7,8,9,10,20,30,40,50,60,70,80,90,100,200,300,400,500,600,700,800,900,1000],"labelExpr":"abs(log(datum.value)/LN10-round(log(datum.value)/LN10))<0.01?'10'+(datum.value<0.5?'⁻':'')+['⁰','¹','²','³','⁴','⁵','⁶'][abs(round(log(datum.value)/LN10))]:''","tickSize":{"condition":{"test":"abs(log(datum.value)/LN10-round(log(datum.value)/LN10))<0.01","value":3},"value":1.8}}},"y":{"field":"v","type":"quantitative","scale":{"type":"log","domain":[0.99,27.1],"nice":false},"axis":{"title":null,"labels":false,"values":[1,2,3,4,5,6,7,8,9,10,20],"tickSize":{"condition":{"test":"abs(log(datum.value)/LN10-round(log(datum.value)/LN10))<0.01","value":3},"value":1.8}}}},
"layer":[
{"data":{"name":"p52t"},"mark":{"type":"line","color":"#d62728","strokeWidth":1,"opacity":0.4,"clip":true,"point":{"shape":"M0,-1.6L0,1.6M-0.6,-1.6L0.6,-1.6M-0.6,1.6L0.6,1.6M0,-0.85L0.55,0L0,0.85L-0.55,0Z","size":24,"filled":true,"color":"#d62728","stroke":"#d62728","strokeWidth":0.7,"opacity":0.4}},"encoding":{"detail":{"field":"m"}}},
{"data":{"name":"p52"},"mark":{"type":"line","strokeWidth":3,"clip":true,"point":{"shape":"M0,-1.6L0,1.6M-0.6,-1.6L0.6,-1.6M-0.6,1.6L0.6,1.6M0,-0.85L0.55,0L0,0.85L-0.55,0Z","size":50,"filled":true,"stroke":"#d62728","strokeWidth":1}},"encoding":{"color":{"field":"m","type":"nominal","scale":{"range":["#d62728"]},"legend":{"title":null,"orient":"top-right","symbolType":"M-1,0L3,0M1,-0.9L1,0.9M0.6,-0.9L1.4,-0.9M0.6,0.9L1.4,0.9"}}}}
]},
{"width":154,"height":81,"encoding":{"x":{"field":"N","type":"quantitative","scale":{"type":"log","domain":[2.83,1585],"nice":false},"axis":{"title":"N","values":[3,4,5,6,7,8,9,10,20,30,40,50,60,70,80,90,100,200,300,400,500,600,700,800,900,1000],"labelExpr":"abs(log(datum.value)/LN10-round(log(datum.value)/LN10))<0.01?'10'+(datum.value<0.5?'⁻':'')+['⁰','¹','²','³','⁴','⁵','⁶'][abs(round(log(datum.value)/LN10))]:''","tickSize":{"condition":{"test":"abs(log(datum.value)/LN10-round(log(datum.value)/LN10))<0.01","value":3},"value":1.8}}},"y":{"field":"v","type":"quantitative","scale":{"type":"log","domain":[0.99,27.1],"nice":false},"axis":{"title":null,"labels":false,"values":[1,2,3,4,5,6,7,8,9,10,20],"tickSize":{"condition":{"test":"abs(log(datum.value)/LN10-round(log(datum.value)/LN10))<0.01","value":3},"value":1.8}}}},
"layer":[
{"data":{"name":"p53t"},"mark":{"type":"line","color":"#1f77b4","strokeWidth":1,"opacity":0.4,"clip":true,"point":{"shape":"M0,-1.6L0,1.6M-0.6,-1.6L0.6,-1.6M-0.6,1.6L0.6,1.6M0,-0.85L0.55,0L0,0.85L-0.55,0Z","size":24,"filled":true,"color":"#1f77b4","stroke":"#1f77b4","strokeWidth":0.7,"opacity":0.4}},"encoding":{"detail":{"field":"m"}}},
{"data":{"name":"p53"},"mark":{"type":"line","strokeWidth":3,"clip":true,"point":{"shape":"M0,-1.6L0,1.6M-0.6,-1.6L0.6,-1.6M-0.6,1.6L0.6,1.6M0,-0.85L0.55,0L0,0.85L-0.55,0Z","size":50,"filled":true,"stroke":"#1f77b4","strokeWidth":1}},"encoding":{"color":{"field":"m","type":"nominal","scale":{"range":["#1f77b4"]},"legend":{"title":null,"orient":"bottom-left","symbolType":"M-1,0L3,0M1,-0.9L1,0.9M0.6,-0.9L1.4,-0.9M0.6,0.9L1.4,0.9"}}}}
]},
{"width":154,"height":81,"encoding":{"x":{"field":"N","type":"quantitative","scale":{"type":"log","domain":[2.83,1585],"nice":false},"axis":{"title":"N","values":[3,4,5,6,7,8,9,10,20,30,40,50,60,70,80,90,100,200,300,400,500,600,700,800,900,1000],"labelExpr":"abs(log(datum.value)/LN10-round(log(datum.value)/LN10))<0.01?'10'+(datum.value<0.5?'⁻':'')+['⁰','¹','²','³','⁴','⁵','⁶'][abs(round(log(datum.value)/LN10))]:''","tickSize":{"condition":{"test":"abs(log(datum.value)/LN10-round(log(datum.value)/LN10))<0.01","value":3},"value":1.8}}},"y":{"field":"v","type":"quantitative","scale":{"type":"log","domain":[0.99,27.1],"nice":false},"axis":{"title":null,"labels":false,"values":[1,2,3,4,5,6,7,8,9,10,20],"tickSize":{"condition":{"test":"abs(log(datum.value)/LN10-round(log(datum.value)/LN10))<0.01","value":3},"value":1.8}}}},
"layer":[
{"data":{"name":"p54t"},"mark":{"type":"line","color":"#8c564b","strokeWidth":1,"opacity":0.4,"clip":true,"point":{"shape":"M0,-1.6L0,1.6M-0.6,-1.6L0.6,-1.6M-0.6,1.6L0.6,1.6M0,-0.85L0.55,0L0,0.85L-0.55,0Z","size":24,"filled":true,"color":"#8c564b","stroke":"#8c564b","strokeWidth":0.7,"opacity":0.4}},"encoding":{"detail":{"field":"m"}}},
{"data":{"name":"p54"},"mark":{"type":"line","strokeWidth":3,"clip":true,"point":{"shape":"M0,-1.6L0,1.6M-0.6,-1.6L0.6,-1.6M-0.6,1.6L0.6,1.6M0,-0.85L0.55,0L0,0.85L-0.55,0Z","size":50,"filled":true,"stroke":"#8c564b","strokeWidth":1}},"encoding":{"color":{"field":"m","type":"nominal","scale":{"range":["#8c564b"]},"legend":{"title":null,"orient":"top-right","symbolType":"M-1,0L3,0M1,-0.9L1,0.9M0.6,-0.9L1.4,-0.9M0.6,0.9L1.4,0.9"}}}}
]},
{"width":154,"height":81,"encoding":{"x":{"field":"N","type":"quantitative","scale":{"type":"log","domain":[2.83,1585],"nice":false},"axis":{"title":"N","values":[3,4,5,6,7,8,9,10,20,30,40,50,60,70,80,90,100,200,300,400,500,600,700,800,900,1000],"labelExpr":"abs(log(datum.value)/LN10-round(log(datum.value)/LN10))<0.01?'10'+(datum.value<0.5?'⁻':'')+['⁰','¹','²','³','⁴','⁵','⁶'][abs(round(log(datum.value)/LN10))]:''","tickSize":{"condition":{"test":"abs(log(datum.value)/LN10-round(log(datum.value)/LN10))<0.01","value":3},"value":1.8}}},"y":{"field":"v","type":"quantitative","scale":{"type":"log","domain":[0.99,27.1],"nice":false},"axis":{"title":null,"labels":false,"values":[1,2,3,4,5,6,7,8,9,10,20],"tickSize":{"condition":{"test":"abs(log(datum.value)/LN10-round(log(datum.value)/LN10))<0.01","value":3},"value":1.8}}}},
"layer":[
{"data":{"name":"p55t"},"mark":{"type":"line","color":"#9467bd","strokeWidth":1,"opacity":0.4,"clip":true,"point":{"shape":"M0,-1.6L0,1.6M-0.6,-1.6L0.6,-1.6M-0.6,1.6L0.6,1.6M0,-0.85L0.55,0L0,0.85L-0.55,0Z","size":24,"filled":true,"color":"#9467bd","stroke":"#9467bd","strokeWidth":0.7,"opacity":0.4}},"encoding":{"detail":{"field":"m"}}},
{"data":{"name":"p55"},"mark":{"type":"line","strokeWidth":3,"clip":true,"point":{"shape":"M0,-1.6L0,1.6M-0.6,-1.6L0.6,-1.6M-0.6,1.6L0.6,1.6M0,-0.85L0.55,0L0,0.85L-0.55,0Z","size":50,"filled":true,"stroke":"#9467bd","strokeWidth":1}},"encoding":{"color":{"field":"m","type":"nominal","scale":{"range":["#9467bd"]},"legend":{"title":null,"orient":"top-right","symbolType":"M-1,0L3,0M1,-0.9L1,0.9M0.6,-0.9L1.4,-0.9M0.6,0.9L1.4,0.9"}}}}
]},
{"width":154,"height":81,"encoding":{"x":{"field":"N","type":"quantitative","scale":{"type":"log","domain":[2.83,1585],"nice":false},"axis":{"title":"N","values":[3,4,5,6,7,8,9,10,20,30,40,50,60,70,80,90,100,200,300,400,500,600,700,800,900,1000],"labelExpr":"abs(log(datum.value)/LN10-round(log(datum.value)/LN10))<0.01?'10'+(datum.value<0.5?'⁻':'')+['⁰','¹','²','³','⁴','⁵','⁶'][abs(round(log(datum.value)/LN10))]:''","tickSize":{"condition":{"test":"abs(log(datum.value)/LN10-round(log(datum.value)/LN10))<0.01","value":3},"value":1.8}}},"y":{"field":"v","type":"quantitative","scale":{"type":"log","domain":[0.99,27.1],"nice":false},"axis":{"title":null,"labels":false,"values":[1,2,3,4,5,6,7,8,9,10,20],"tickSize":{"condition":{"test":"abs(log(datum.value)/LN10-round(log(datum.value)/LN10))<0.01","value":3},"value":1.8}}}},
"layer":[
{"data":{"name":"p56t"},"mark":{"type":"line","color":"#7f7f7f","strokeWidth":1,"opacity":0.4,"clip":true,"point":{"shape":"M0,-1.6L0,1.6M-0.6,-1.6L0.6,-1.6M-0.6,1.6L0.6,1.6M0,-0.85L0.55,0L0,0.85L-0.55,0Z","size":24,"filled":true,"color":"#7f7f7f","stroke":"#7f7f7f","strokeWidth":0.7,"opacity":0.4}},"encoding":{"detail":{"field":"m"}}},
{"data":{"name":"p56"},"mark":{"type":"line","strokeWidth":3,"clip":true,"point":{"shape":"M0,-1.6L0,1.6M-0.6,-1.6L0.6,-1.6M-0.6,1.6L0.6,1.6M0,-0.85L0.55,0L0,0.85L-0.55,0Z","size":50,"filled":true,"stroke":"#7f7f7f","strokeWidth":1}},"encoding":{"color":{"field":"m","type":"nominal","scale":{"range":["#7f7f7f"]},"legend":{"title":null,"orient":"bottom-left","symbolType":"M-1,0L3,0M1,-0.9L1,0.9M0.6,-0.9L1.4,-0.9M0.6,0.9L1.4,0.9"}}}}
]},
{"width":154,"height":81,"encoding":{"x":{"field":"N","type":"quantitative","scale":{"type":"log","domain":[2.83,1585],"nice":false},"axis":{"title":"N","values":[3,4,5,6,7,8,9,10,20,30,40,50,60,70,80,90,100,200,300,400,500,600,700,800,900,1000],"labelExpr":"abs(log(datum.value)/LN10-round(log(datum.value)/LN10))<0.01?'10'+(datum.value<0.5?'⁻':'')+['⁰','¹','²','³','⁴','⁵','⁶'][abs(round(log(datum.value)/LN10))]:''","tickSize":{"condition":{"test":"abs(log(datum.value)/LN10-round(log(datum.value)/LN10))<0.01","value":3},"value":1.8}}},"y":{"field":"v","type":"quantitative","scale":{"type":"log","domain":[0.99,27.1],"nice":false},"axis":{"title":null,"labels":false,"values":[1,2,3,4,5,6,7,8,9,10,20],"tickSize":{"condition":{"test":"abs(log(datum.value)/LN10-round(log(datum.value)/LN10))<0.01","value":3},"value":1.8}}}},
"layer":[
{"data":{"name":"p57t"},"mark":{"type":"line","color":"#e377c2","strokeWidth":1,"opacity":0.4,"clip":true,"point":{"shape":"M0,-1.6L0,1.6M-0.6,-1.6L0.6,-1.6M-0.6,1.6L0.6,1.6M0,-0.85L0.55,0L0,0.85L-0.55,0Z","size":24,"filled":true,"color":"#e377c2","stroke":"#e377c2","strokeWidth":0.7,"opacity":0.4}},"encoding":{"detail":{"field":"m"}}},
{"data":{"name":"p57"},"mark":{"type":"line","strokeWidth":3,"clip":true,"point":{"shape":"M0,-1.6L0,1.6M-0.6,-1.6L0.6,-1.6M-0.6,1.6L0.6,1.6M0,-0.85L0.55,0L0,0.85L-0.55,0Z","size":50,"filled":true,"stroke":"#e377c2","strokeWidth":1}},"encoding":{"color":{"field":"m","type":"nominal","scale":{"range":["#e377c2"]},"legend":{"title":null,"orient":"bottom-left","symbolType":"M-1,0L3,0M1,-0.9L1,0.9M0.6,-0.9L1.4,-0.9M0.6,0.9L1.4,0.9"}}}}
]}
],
"config":{
"view":{"stroke":"#000","strokeWidth":0.9},
"font":"DejaVu Sans",
"axis":{"domain":false,"grid":false,"tickColor":"#000","tickWidth":0.7,"labelFont":"DejaVu Sans","labelFontSize":7,"labelColor":"#333","labelPadding":1,"labelFlush":false,"labelOverlap":false,"labelBound":false,"titleFont":"DejaVu Sans","titleFontSize":7,"titleFontWeight":"normal","titleColor":"#333","titlePadding":3},
"legend":{"labelFont":"DejaVu Sans","labelFontSize":7,"labelColor":"#222","strokeColor":"#d0d0d0","fillColor":"rgba(255,255,255,0.85)","padding":1.8,"cornerRadius":2,"symbolSize":70,"symbolStrokeWidth":2.5,"labelOffset":12.3,"offset":4}
}
}
